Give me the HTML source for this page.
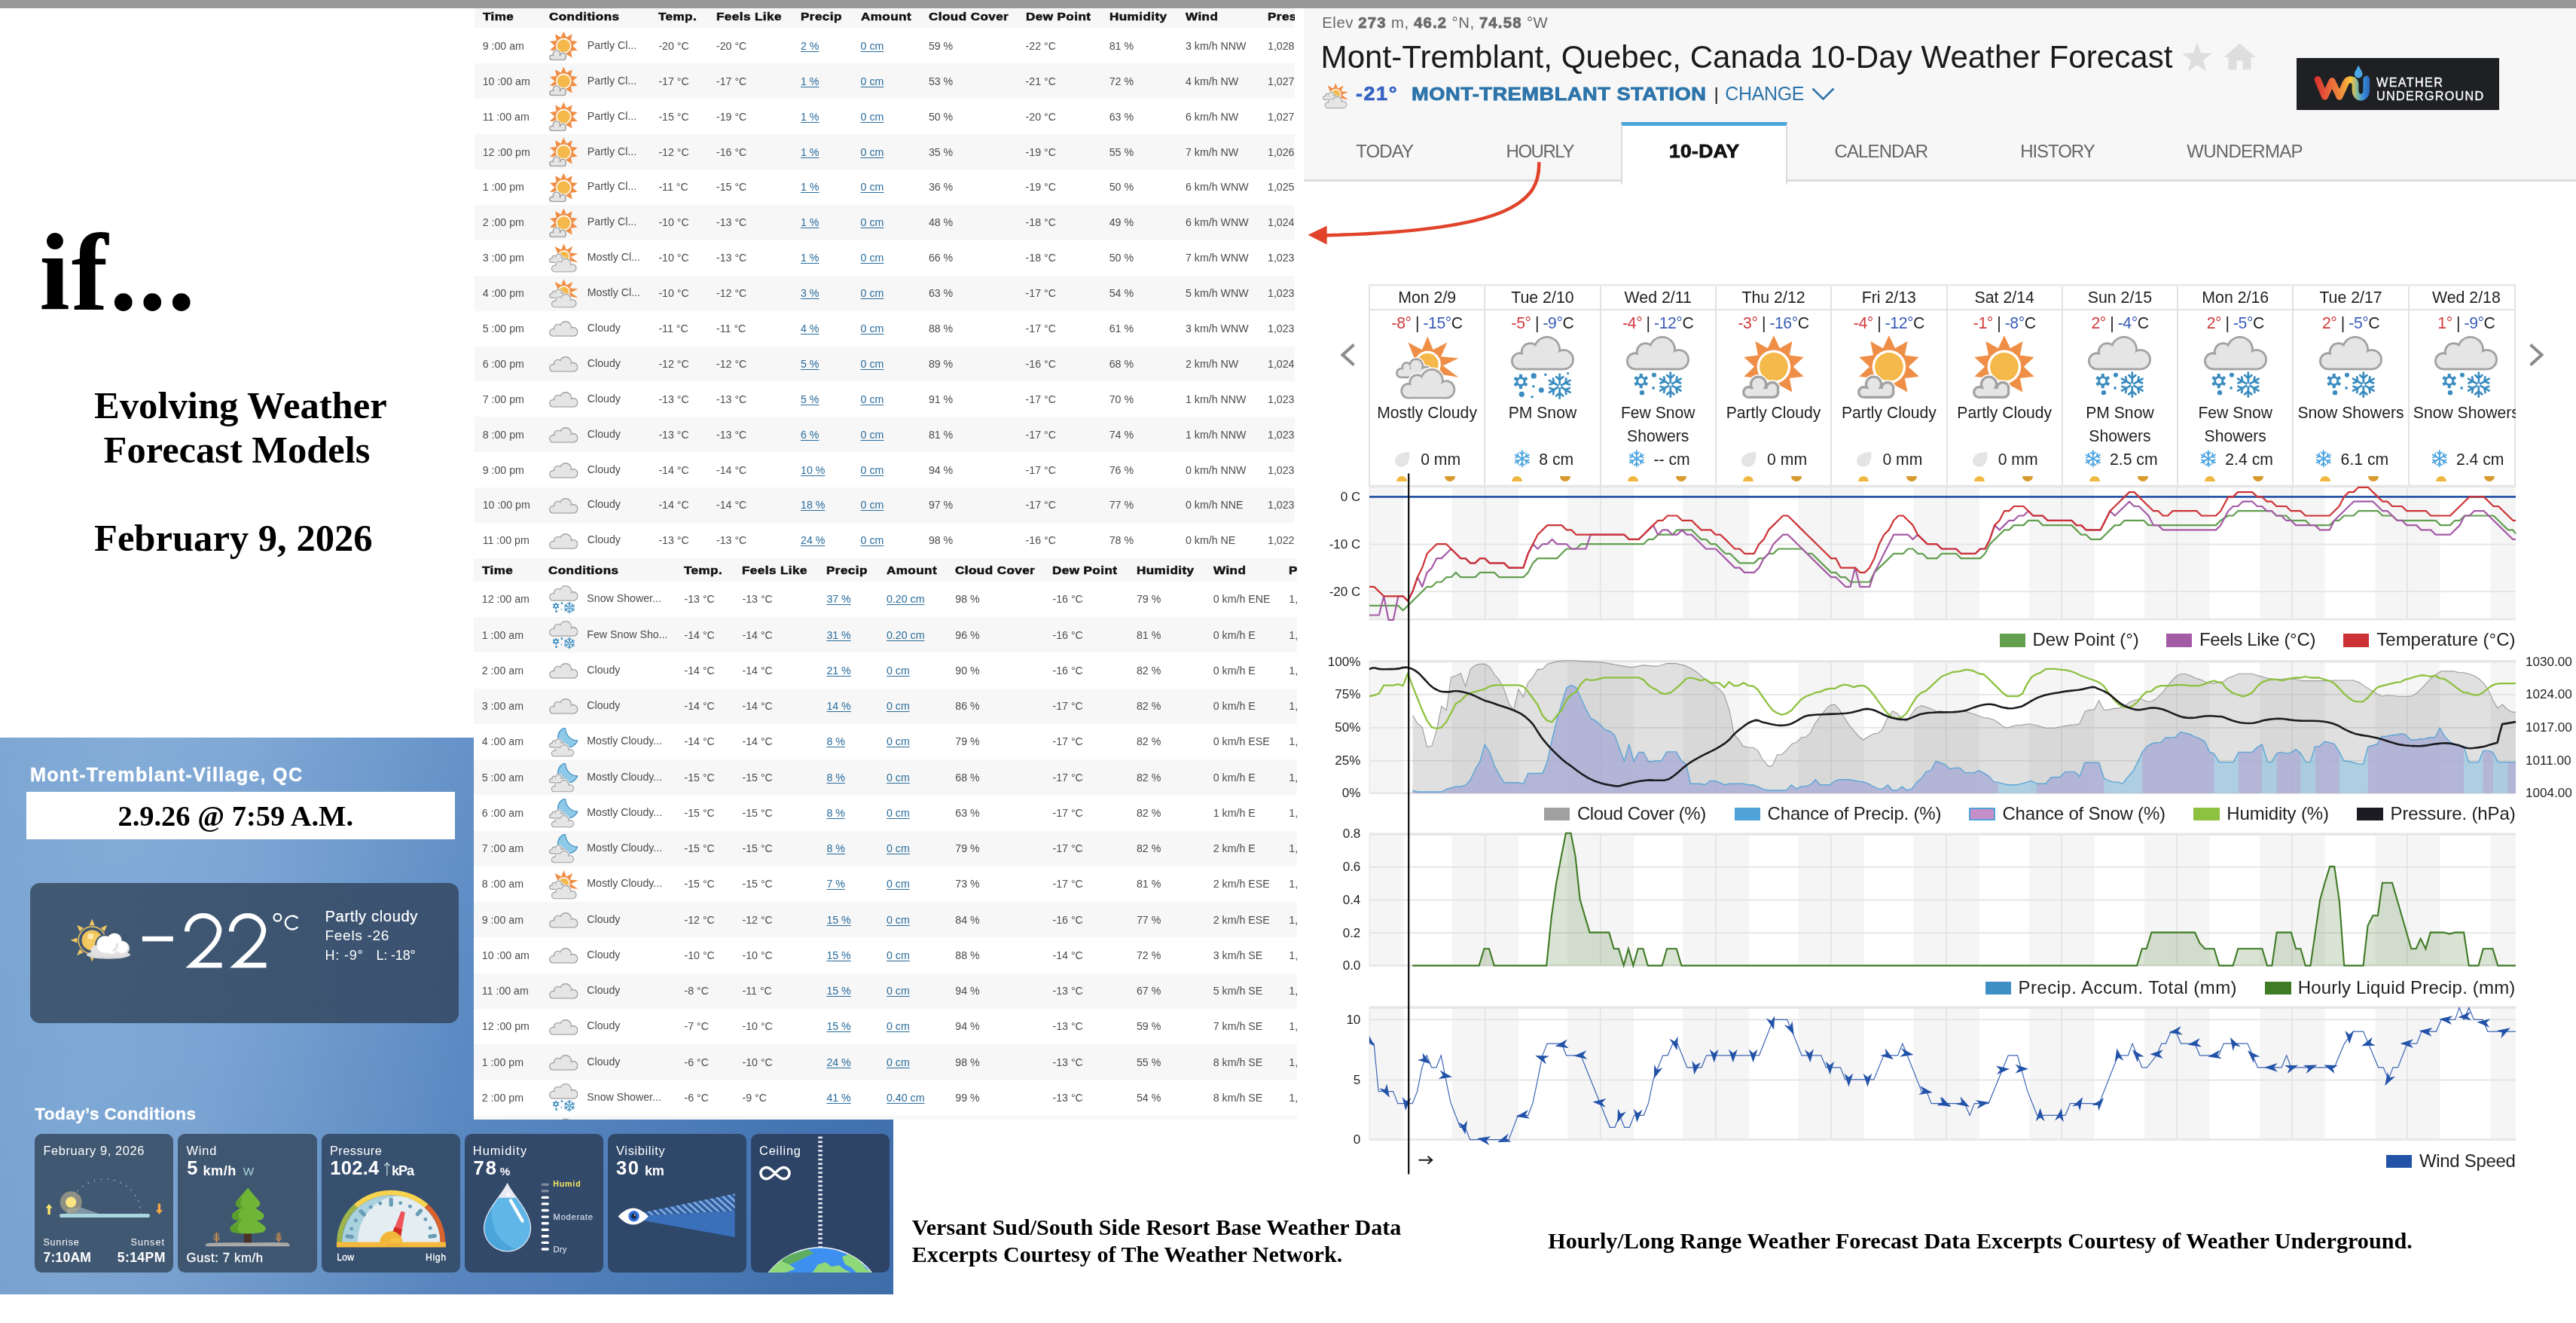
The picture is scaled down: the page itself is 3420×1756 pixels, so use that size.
<!DOCTYPE html>
<html><head><meta charset="utf-8"><title>if... Evolving Weather Forecast Models</title>
<style>
html,body{margin:0;padding:0}
body{width:3420px;height:1756px;position:relative;overflow:hidden;background:#fff;font-family:"Liberation Sans",sans-serif}
#pg{position:absolute;left:0;top:0;width:3420px;height:1756px;overflow:hidden;will-change:transform;transform:translateZ(0);-webkit-font-smoothing:antialiased}
.abs{position:absolute}
.topbar{position:absolute;left:0;top:0;width:3420px;height:11.4px;background:#999}

.tb{position:absolute;overflow:hidden;background:#fff;font-family:"Liberation Sans",sans-serif}
.th{position:absolute;left:0;right:0;top:0;background:#f7f7f7}
.th span{position:absolute;font-weight:bold;font-size:15.5px;letter-spacing:.4px;color:#111;white-space:nowrap;line-height:16px;-webkit-text-stroke:.55px #111;transform:scaleX(1.1);transform-origin:0 50%}
.tr{position:absolute;left:0;right:0;background:#fff}
.tr.g{background:#f7f7f7}
.tr span{position:absolute;top:50%;margin-top:-8.0px;font-size:14.2px;letter-spacing:0;color:#4c4c4c;white-space:nowrap;line-height:16px}
.tr span.cd{margin-top:-9.1px}
.tr span.lk{color:#2a6c9c;text-decoration:underline;text-underline-offset:1.5px}
.ic{position:absolute;overflow:visible}

.sf{position:absolute;font-family:"Liberation Serif",serif;font-weight:bold;color:#000;white-space:nowrap;line-height:1}

.t{position:absolute;white-space:nowrap;line-height:1;font-family:"Liberation Sans",sans-serif}
.wuh{position:absolute;left:1731px;top:11.4px;width:1689px;height:230.1px;background:#f7f7f7;border-bottom:3.2px solid #dcdcdc;box-sizing:border-box}
.tabact{position:absolute;left:2151.5px;top:161.5px;width:221.5px;height:83px;background:#fff;border-top:5px solid #4ba5da;border-left:2.5px solid #dcdcdc;border-right:2.5px solid #dcdcdc;box-sizing:border-box}
.logo{position:absolute;left:3049px;top:77px;width:269px;height:68.8px;background:#1e2024}
.strip{position:absolute;left:1816.5px;top:376.5px;width:1523.5px;height:268px;overflow:hidden;border-top:3px solid #ebebeb;box-sizing:border-box;background:#fff}
.strip .vl{position:absolute;top:0;width:2px;height:268px;background:#e2e2e2}
.strip .hl{position:absolute;left:0;width:1530px;height:2.2px;background:#e2e2e2}

.twn{position:absolute;left:0;top:979.3px;width:1186.3px;height:738.3px;overflow:hidden;
 background:linear-gradient(97deg,#78a2d1 0%,#7ea8d5 14%,#7aa4d3 26%,#6a97cb 40%,#5c8bc4 52%,#5685c0 64%,#4d7ebb 78%,#4576b4 90%,#4273b1 100%)}
.twn .sheen{position:absolute;left:0;top:0;width:100%;height:100%;background:linear-gradient(165deg,rgba(255,255,255,.05) 0%,rgba(255,255,255,0) 45%,rgba(0,0,40,.05) 100%)}
.card{position:absolute;border-radius:9.5px;overflow:hidden}
.w{color:#fff}
</style></head>
<body><div id="pg">
<svg width="0" height="0" style="position:absolute"><defs><symbol id="i-pc" viewBox="0 0 100 100"><polygon points="50.20,-1.10 59.78,19.42 79.59,8.45 75.28,30.68 97.75,33.45 81.20,48.90 97.75,64.35 75.28,67.12 79.59,89.35 59.78,78.38 50.20,98.90 40.62,78.38 20.81,89.35 25.12,67.12 2.65,64.35 19.20,48.90 2.65,33.45 25.12,30.68 20.81,8.45 40.62,19.42" fill="#ef8f47"/><circle cx="50.2" cy="48.9" r="26.7" fill="#fff"/><circle cx="50.2" cy="48.9" r="22.6" fill="#f4b94a"/><g fill="#fff"><circle cx="25.8" cy="77.0" r="15.90"/><circle cx="47.8" cy="83.0" r="13.20"/><circle cx="10.2" cy="89.2" r="12.00"/><circle cx="49.0" cy="89.0" r="12.10"/><rect x="10.2" y="84" width="38.8" height="17.15"/></g><g fill="#a2a2a2"><circle cx="25.8" cy="77.0" r="14.10"/><circle cx="47.8" cy="83.0" r="11.40"/><circle cx="10.2" cy="89.2" r="10.20"/><circle cx="49.0" cy="89.0" r="10.30"/><rect x="10.2" y="84" width="38.8" height="15.35"/></g><g fill="#e5e5e5"><circle cx="25.8" cy="77.0" r="10.10"/><circle cx="47.8" cy="83.0" r="7.40"/><circle cx="10.2" cy="89.2" r="6.20"/><circle cx="49.0" cy="89.0" r="6.30"/><rect x="10.2" y="84" width="38.8" height="11.35"/></g></symbol><symbol id="i-mc" viewBox="0 0 100 100"><polygon points="28.87,33.68 19.59,10.24 41.92,21.93 50.70,0.70 59.48,21.93 81.81,10.24 72.02,32.74 99.98,35.22 75.07,47.36 99.95,65.70 69.47,60.55 50.70,44.80" fill="#ef8f47"/><circle cx="50.7" cy="44.8" r="21" fill="#fff"/><circle cx="50.7" cy="44.8" r="17.2" fill="#f4b94a"/><g fill="#fff"><ellipse cx="8.15" cy="58.76" rx="9.65" ry="10.06"/><ellipse cx="17.38" cy="49.96" rx="10.22" ry="10.66"/><ellipse cx="32.49" cy="47.93" rx="13.81" ry="14.43"/><ellipse cx="47.42" cy="57.26" rx="11.08" ry="11.55"/><rect x="8.15" y="52.95" width="39.27" height="15.86"/></g><g fill="#a2a2a2"><ellipse cx="8.15" cy="58.76" rx="8.15" ry="8.56"/><ellipse cx="17.38" cy="49.96" rx="8.72" ry="9.16"/><ellipse cx="32.49" cy="47.93" rx="12.31" ry="12.93"/><ellipse cx="47.42" cy="57.26" rx="9.58" ry="10.05"/><rect x="8.15" y="52.95" width="39.27" height="14.36"/></g><g fill="#e5e5e5"><ellipse cx="8.15" cy="58.76" rx="4.85" ry="5.26"/><ellipse cx="17.38" cy="49.96" rx="5.42" ry="5.86"/><ellipse cx="32.49" cy="47.93" rx="9.01" ry="9.63"/><ellipse cx="47.42" cy="57.26" rx="6.28" ry="6.75"/><rect x="8.15" y="52.95" width="39.27" height="11.06"/></g><g fill="#fff"><ellipse cx="20.01" cy="87.28" rx="14.31" ry="14.69"/><ellipse cx="34.19" cy="74.03" rx="15.19" ry="15.59"/><ellipse cx="57.38" cy="70.97" rx="20.70" ry="21.27"/><ellipse cx="80.30" cy="85.03" rx="16.50" ry="16.94"/><rect x="20.01" y="78.54" width="60.29" height="23.43"/></g><g fill="#a2a2a2"><ellipse cx="20.01" cy="87.28" rx="12.51" ry="12.89"/><ellipse cx="34.19" cy="74.03" rx="13.39" ry="13.79"/><ellipse cx="57.38" cy="70.97" rx="18.90" ry="19.47"/><ellipse cx="80.30" cy="85.03" rx="14.70" ry="15.14"/><rect x="20.01" y="78.54" width="60.29" height="21.63"/></g><g fill="#e5e5e5"><ellipse cx="20.01" cy="87.28" rx="9.21" ry="9.59"/><ellipse cx="34.19" cy="74.03" rx="10.09" ry="10.49"/><ellipse cx="57.38" cy="70.97" rx="15.60" ry="16.17"/><ellipse cx="80.30" cy="85.03" rx="11.40" ry="11.84"/><rect x="20.01" y="78.54" width="60.29" height="18.33"/></g></symbol><symbol id="i-mcn" viewBox="0 0 100 100"><defs><mask id="mk-moon"><rect width="100" height="100" fill="#fff"/><circle cx="97" cy="2" r="42" fill="#000"/></mask></defs><g mask="url(#mk-moon)"><circle cx="65" cy="33" r="34.5" fill="#8fc9e8" stroke="#3c8cc2" stroke-width="3.4"/></g><path d="M56.3,0.8 A42,42 0 0 0 98.6,44" fill="none" stroke="#3c8cc2" stroke-width="3.2"/><g fill="#fff"><ellipse cx="8.01" cy="60.34" rx="9.51" ry="9.91"/><ellipse cx="17.08" cy="51.70" rx="10.07" ry="10.50"/><ellipse cx="31.92" cy="49.70" rx="13.60" ry="14.20"/><ellipse cx="46.59" cy="58.87" rx="10.91" ry="11.38"/><rect x="8.01" y="54.64" width="38.58" height="15.61"/></g><g fill="#a2a2a2"><ellipse cx="8.01" cy="60.34" rx="8.01" ry="8.41"/><ellipse cx="17.08" cy="51.70" rx="8.57" ry="9.00"/><ellipse cx="31.92" cy="49.70" rx="12.10" ry="12.70"/><ellipse cx="46.59" cy="58.87" rx="9.41" ry="9.88"/><rect x="8.01" y="54.64" width="38.58" height="14.11"/></g><g fill="#e5e5e5"><ellipse cx="8.01" cy="60.34" rx="4.71" ry="5.11"/><ellipse cx="17.08" cy="51.70" rx="5.27" ry="5.70"/><ellipse cx="31.92" cy="49.70" rx="8.80" ry="9.40"/><ellipse cx="46.59" cy="58.87" rx="6.11" ry="6.58"/><rect x="8.01" y="54.64" width="38.58" height="10.81"/></g><g fill="#fff"><ellipse cx="18.30" cy="88.49" rx="13.10" ry="13.32"/><ellipse cx="31.10" cy="76.64" rx="13.89" ry="14.13"/><ellipse cx="52.03" cy="73.91" rx="18.86" ry="19.21"/><ellipse cx="72.73" cy="86.48" rx="15.07" ry="15.34"/><rect x="18.30" y="80.67" width="54.43" height="21.14"/></g><g fill="#a2a2a2"><ellipse cx="18.30" cy="88.49" rx="11.30" ry="11.52"/><ellipse cx="31.10" cy="76.64" rx="12.09" ry="12.33"/><ellipse cx="52.03" cy="73.91" rx="17.06" ry="17.41"/><ellipse cx="72.73" cy="86.48" rx="13.27" ry="13.54"/><rect x="18.30" y="80.67" width="54.43" height="19.34"/></g><g fill="#e5e5e5"><ellipse cx="18.30" cy="88.49" rx="8.00" ry="8.22"/><ellipse cx="31.10" cy="76.64" rx="8.79" ry="9.03"/><ellipse cx="52.03" cy="73.91" rx="13.76" ry="14.11"/><ellipse cx="72.73" cy="86.48" rx="9.97" ry="10.24"/><rect x="18.30" y="80.67" width="54.43" height="16.04"/></g></symbol><symbol id="i-cl" viewBox="0 0 100 54"><g fill="#a2a2a2"><ellipse cx="14.30" cy="39.70" rx="14.30" ry="14.30"/><ellipse cx="30.50" cy="25.00" rx="15.30" ry="15.30"/><ellipse cx="57.00" cy="21.60" rx="21.60" ry="21.60"/><ellipse cx="83.20" cy="37.20" rx="16.80" ry="16.80"/><rect x="14.30" y="30.00" width="68.90" height="24.00"/></g><g fill="#e5e5e5"><ellipse cx="14.30" cy="39.70" rx="10.70" ry="10.70"/><ellipse cx="30.50" cy="25.00" rx="11.70" ry="11.70"/><ellipse cx="57.00" cy="21.60" rx="18.00" ry="18.00"/><ellipse cx="83.20" cy="37.20" rx="13.20" ry="13.20"/><rect x="14.30" y="30.00" width="68.90" height="20.40"/></g></symbol><symbol id="i-sn" viewBox="0 0 100 100"><g fill="#a2a2a2"><ellipse cx="14.30" cy="39.70" rx="14.30" ry="14.30"/><ellipse cx="30.50" cy="25.00" rx="15.30" ry="15.30"/><ellipse cx="57.00" cy="21.60" rx="21.60" ry="21.60"/><ellipse cx="83.20" cy="37.20" rx="16.80" ry="16.80"/><rect x="14.30" y="30.00" width="68.90" height="24.00"/></g><g fill="#e5e5e5"><ellipse cx="14.30" cy="39.70" rx="10.90" ry="10.90"/><ellipse cx="30.50" cy="25.00" rx="11.90" ry="11.90"/><ellipse cx="57.00" cy="21.60" rx="18.20" ry="18.20"/><ellipse cx="83.20" cy="37.20" rx="13.40" ry="13.40"/><rect x="14.30" y="30.00" width="68.90" height="20.60"/></g><g stroke="#3a8cc0" stroke-width="4.83" stroke-linecap="butt"><path d="M23.50,65.83L23.50,59.50"/><path d="M27.98,68.41L33.46,65.25"/><path d="M27.98,73.59L33.46,76.75"/><path d="M23.50,76.17L23.50,82.50"/><path d="M19.02,73.59L13.54,76.75"/><path d="M19.02,68.41L13.54,65.25"/></g><circle cx="23.5" cy="71" r="5.98" fill="none" stroke="#3a8cc0" stroke-width="3.45"/><g stroke="#3a8cc0" stroke-width="3.23" stroke-linecap="round" fill="none"><path d="M70.00,77.00L70.00,58.00"/><path d="M70.00,66.55L64.47,61.91"/><path d="M70.00,66.55L75.53,61.91"/><path d="M70.00,77.00L86.45,67.50"/><path d="M79.05,71.78L80.30,64.66"/><path d="M79.05,71.78L85.83,74.24"/><path d="M70.00,77.00L86.45,86.50"/><path d="M79.05,82.22L85.83,79.76"/><path d="M79.05,82.22L80.30,89.34"/><path d="M70.00,77.00L70.00,96.00"/><path d="M70.00,87.45L75.53,92.09"/><path d="M70.00,87.45L64.47,92.09"/><path d="M70.00,77.00L53.55,86.50"/><path d="M60.95,82.22L59.70,89.34"/><path d="M60.95,82.22L54.17,79.76"/><path d="M70.00,77.00L53.55,67.50"/><path d="M60.95,71.78L54.17,74.24"/><path d="M60.95,71.78L59.70,64.66"/></g><circle cx="70" cy="77" r="2.28" fill="#fff"/><circle cx="44" cy="61.5" r="3.6" fill="#3a8cc0"/><circle cx="43" cy="82" r="2.2" fill="#3a8cc0"/><circle cx="25" cy="89.5" r="3.8" fill="#3a8cc0"/></symbol><symbol id="i-sn2" viewBox="0 0 100 100"><g fill="#a2a2a2"><ellipse cx="14.30" cy="39.70" rx="14.30" ry="14.30"/><ellipse cx="30.50" cy="25.00" rx="15.30" ry="15.30"/><ellipse cx="57.00" cy="21.60" rx="21.60" ry="21.60"/><ellipse cx="83.20" cy="37.20" rx="16.80" ry="16.80"/><rect x="14.30" y="30.00" width="68.90" height="24.00"/></g><g fill="#e5e5e5"><ellipse cx="14.30" cy="39.70" rx="11.00" ry="11.00"/><ellipse cx="30.50" cy="25.00" rx="12.00" ry="12.00"/><ellipse cx="57.00" cy="21.60" rx="18.30" ry="18.30"/><ellipse cx="83.20" cy="37.20" rx="13.50" ry="13.50"/><rect x="14.30" y="30.00" width="68.90" height="20.70"/></g><g stroke="#3a8cc0" stroke-width="4.83" stroke-linecap="butt"><path d="M15.50,66.83L15.50,60.50"/><path d="M19.98,69.41L25.46,66.25"/><path d="M19.98,74.59L25.46,77.75"/><path d="M15.50,77.17L15.50,83.50"/><path d="M11.02,74.59L5.54,77.75"/><path d="M11.02,69.41L5.54,66.25"/></g><circle cx="15.5" cy="72" r="5.98" fill="none" stroke="#3a8cc0" stroke-width="3.45"/><g stroke="#3a8cc0" stroke-width="3.23" stroke-linecap="round" fill="none"><path d="M77.00,79.50L77.00,60.50"/><path d="M77.00,69.05L71.47,64.41"/><path d="M77.00,69.05L82.53,64.41"/><path d="M77.00,79.50L93.45,70.00"/><path d="M86.05,74.28L87.30,67.16"/><path d="M86.05,74.28L92.83,76.74"/><path d="M77.00,79.50L93.45,89.00"/><path d="M86.05,84.72L92.83,82.26"/><path d="M86.05,84.72L87.30,91.84"/><path d="M77.00,79.50L77.00,98.50"/><path d="M77.00,89.95L82.53,94.59"/><path d="M77.00,89.95L71.47,94.59"/><path d="M77.00,79.50L60.55,89.00"/><path d="M67.95,84.72L66.70,91.84"/><path d="M67.95,84.72L61.17,82.26"/><path d="M77.00,79.50L60.55,70.00"/><path d="M67.95,74.28L61.17,76.74"/><path d="M67.95,74.28L66.70,67.16"/></g><circle cx="77" cy="79.5" r="2.28" fill="#fff"/><circle cx="36" cy="63" r="4.3" fill="#3a8cc0"/><circle cx="54.5" cy="61" r="2.1" fill="#3a8cc0"/><circle cx="90" cy="59" r="1.9" fill="#3a8cc0"/><circle cx="35.6" cy="79.6" r="2.1" fill="#3a8cc0"/><circle cx="48" cy="85.5" r="4.2" fill="#3a8cc0"/><circle cx="17" cy="92" r="4.3" fill="#3a8cc0"/><circle cx="33.5" cy="96" r="2.1" fill="#3a8cc0"/></symbol><symbol id="i-fl" viewBox="0 0 40 40"><g stroke="#4aa3df" stroke-width="3.06" stroke-linecap="round" fill="none"><path d="M20.00,20.00L20.00,2.00"/><path d="M20.00,10.10L14.76,5.70"/><path d="M20.00,10.10L25.24,5.70"/><path d="M20.00,20.00L35.59,11.00"/><path d="M28.57,15.05L29.76,8.31"/><path d="M28.57,15.05L35.00,17.39"/><path d="M20.00,20.00L35.59,29.00"/><path d="M28.57,24.95L35.00,22.61"/><path d="M28.57,24.95L29.76,31.69"/><path d="M20.00,20.00L20.00,38.00"/><path d="M20.00,29.90L25.24,34.30"/><path d="M20.00,29.90L14.76,34.30"/><path d="M20.00,20.00L4.41,29.00"/><path d="M11.43,24.95L10.24,31.69"/><path d="M11.43,24.95L5.00,22.61"/><path d="M20.00,20.00L4.41,11.00"/><path d="M11.43,15.05L5.00,17.39"/><path d="M11.43,15.05L10.24,8.31"/></g><circle cx="20" cy="20" r="2.16" fill="none"/></symbol><symbol id="i-dr" viewBox="0 0 40 40"><path d="M38,1.5 C41,22 33,39 18.5,39 C7.5,39 1,31 2,21.5 C3.5,9 18,2.5 38,1.5Z" fill="#e4e4e4"/></symbol></defs></svg>
<!-- wu -->
<div class="wuh"></div>
<div class="t" style="left:1755.2px;top:20.3px;font-size:20.3px;color:#666;letter-spacing:.6px">Elev <b style="color:#6a6a6a;-webkit-text-stroke:.75px #6a6a6a;letter-spacing:1.2px">273</b> m, <b style="color:#6a6a6a;-webkit-text-stroke:.75px #6a6a6a;letter-spacing:1.2px">46.2</b> °N, <b style="color:#6a6a6a;-webkit-text-stroke:.75px #6a6a6a;letter-spacing:1.2px">74.58</b> °W</div>
<div class="t" style="left:1753.6px;top:54.6px;font-size:42.1px;color:#1a1a1a;letter-spacing:0.015px;">Mont-Tremblant, Quebec, Canada 10-Day Weather Forecast</div>
<svg class="abs" style="left:2896px;top:55px" width="42" height="42" viewBox="0 0 42 42"><polygon points="21,1 26,15.5 41,15.8 29,25 33.4,40 21,31 8.6,40 13,25 1,15.8 16,15.5" fill="#dedede"/></svg>
<svg class="abs" style="left:2952px;top:57px" width="43" height="36" viewBox="0 0 43 36"><path d="M21.5,0.5 L42.5,19 H36.5 V35.5 H25.5 V23.5 H17.5 V35.5 H6.5 V19 H0.5Z" fill="#dedede"/></svg>
<svg class="abs" style="left:1756px;top:110px;overflow:visible" width="34" height="34"><use href="#i-mc"/></svg>
<div class="t" style="left:1800.2px;top:112.3px;font-size:25.2px;font-weight:bold;color:#3664c2;letter-spacing:1.459px;-webkit-text-stroke:.7px #3664c2;transform:scaleX(1.07);transform-origin:0 50%;">-21°</div>
<div class="t" style="left:1874.4px;top:112.6px;font-size:24.8px;font-weight:bold;color:#2d74aa;letter-spacing:0.440px;-webkit-text-stroke:.85px #2d74aa;transform:scaleX(1.1);transform-origin:0 50%;">MONT-TREMBLANT STATION</div>
<div class="t" style="left:2275.5px;top:112.5px;font-size:24.5px;color:#222;">|</div>
<div class="t" style="left:2290.2px;top:112.4px;font-size:25px;color:#2d74aa;letter-spacing:-0.326px;">CHANGE</div>
<svg class="abs" style="left:2404px;top:115px" width="33" height="20" viewBox="0 0 33 20"><path d="M2.5,2.5 L16.5,16.5 L30.5,2.5" fill="none" stroke="#2d74aa" stroke-width="2.6"/></svg>
<div class="logo"></div>
<svg class="abs" style="left:3049px;top:77px" width="269" height="69" viewBox="3049 77 269 69"><defs><linearGradient id="wug" gradientUnits="userSpaceOnUse" x1="3073" y1="0" x2="3146" y2="0"><stop offset="0" stop-color="#d62f30"/><stop offset=".28" stop-color="#e9683a"/><stop offset=".5" stop-color="#f0913a"/><stop offset=".66" stop-color="#f8c43e"/><stop offset=".78" stop-color="#7fb9a0"/><stop offset=".88" stop-color="#3a8fd6"/><stop offset="1" stop-color="#2a64b8"/></linearGradient></defs><path d="M3077,105.5 L3086.5,128.3 L3096,107.5 L3106,128.3 L3114,110.5 C3117,104 3125.5,104 3127,111.5 L3127,119 C3127,132.5 3141.8,132.5 3141.8,119 L3141.8,105" fill="none" stroke="url(#wug)" stroke-width="8.8" stroke-linecap="round" stroke-linejoin="round"/><path d="M3131.2,86.5 C3133.5,92 3136.6,95 3136.6,98.3 A5.4,5.4 0 0 1 3125.8,98.3 C3125.8,95 3128.9,92 3131.2,86.5Z" fill="#4aa9e4"/></svg><div class="t" style="left:3155.0px;top:100.9px;font-size:16.2px;color:#fff;letter-spacing:1.357px;-webkit-text-stroke:.3px #fff">WEATHER</div><div class="t" style="left:3155.0px;top:119.1px;font-size:16.2px;color:#fff;letter-spacing:1.273px;-webkit-text-stroke:.3px #fff">UNDERGROUND</div>
<div class="tabact"></div>
<div class="t" style="left:1800.2px;top:188.6px;font-size:24px;color:#676767;letter-spacing:-0.912px;">TODAY</div>
<div class="t" style="left:1999.5px;top:188.6px;font-size:24px;color:#676767;letter-spacing:-1.456px;">HOURLY</div>
<div class="t" style="left:2435.5px;top:188.6px;font-size:24px;color:#676767;letter-spacing:-0.888px;">CALENDAR</div>
<div class="t" style="left:2682.2px;top:188.6px;font-size:24px;color:#676767;letter-spacing:-1.058px;">HISTORY</div>
<div class="t" style="left:2903.3px;top:188.6px;font-size:24px;color:#676767;letter-spacing:-0.722px;">WUNDERMAP</div>
<div class="t" style="left:2216.0px;top:188.6px;font-size:24px;font-weight:bold;color:#111;letter-spacing:0.307px;-webkit-text-stroke:.8px #111;transform:scaleX(1.1);transform-origin:0 50%;">10-DAY</div>
<svg class="abs" style="left:1730px;top:210px;overflow:visible" width="330" height="125" viewBox="1730 210 330 125"><path d="M2043.2,215.2 C2045,268 2006,306 1760,312.4" fill="none" stroke="#e0432a" stroke-width="4.5"/><polygon points="1736.4,311.8 1761.6,299.8 1761.6,324.6" fill="#e0432a"/></svg>
<div class="strip">
<div class="vl" style="left:0.5px"></div>
<div class="vl" style="left:153.8px"></div>
<div class="vl" style="left:307.1px"></div>
<div class="vl" style="left:460.4px"></div>
<div class="vl" style="left:613.7px"></div>
<div class="vl" style="left:767.0px"></div>
<div class="vl" style="left:920.3px"></div>
<div class="vl" style="left:1073.6px"></div>
<div class="vl" style="left:1226.9px"></div>
<div class="vl" style="left:1380.2px"></div>
<div class="vl" style="left:1533.5px"></div>
<div class="hl" style="top:30.7px"></div>
</div>
<div class="abs" style="left:3338.4px;top:376.5px;width:1.8px;height:268px;background:#e2e2e2"></div>
<div class="abs" style="left:1816.5px;top:376.5px;width:1523.5px;height:268px;overflow:hidden">
<div class="t" style="left:39.7px;top:8.2px;font-size:21.3px;color:#222;">Mon 2/9</div>
<div class="t" style="left:31.1px;top:41.5px;font-size:21.2px;letter-spacing:-0.45px;color:#222"><span style="color:#d13a3c">-8°</span> | <span style="color:#3a5db8">-15°</span>C</div>
<svg class="abs" style="left:36.2px;top:69.8px;overflow:visible" width="83.5" height="83.5"><use href="#i-mc"/></svg>
<div class="t" style="left:11.7px;top:160.6px;font-size:21.15px;color:#222;">Mostly Cloudy</div>
<svg class="abs" style="left:34.6px;top:222.3px" width="21.2" height="21.2"><use href="#i-dr"/></svg>
<div class="t" style="left:69.7px;top:222.6px;font-size:21.2px;color:#222;">0 mm</div>
<svg class="abs" style="left:37.5px;top:255.7px" width="14" height="7" viewBox="0 0 14 7"><path d="M0,7 A7,7 0 0 1 14,7Z" fill="#f0b840"/></svg>
<svg class="abs" style="left:101.5px;top:255.7px" width="14" height="7" viewBox="0 0 14 7"><path d="M0,0 A7,7 0 0 0 14,0Z" fill="#d89a2e"/></svg>
<div class="t" style="left:189.8px;top:8.2px;font-size:21.3px;color:#222;">Tue 2/10</div>
<div class="t" style="left:190.1px;top:41.5px;font-size:21.2px;letter-spacing:-0.45px;color:#222"><span style="color:#d13a3c">-5°</span> | <span style="color:#3a5db8">-9°</span>C</div>
<svg class="abs" style="left:189.5px;top:69.1px;overflow:visible" width="84" height="84"><use href="#i-sn2"/></svg>
<div class="t" style="left:186.2px;top:160.6px;font-size:21.15px;color:#222;">PM Snow</div>
<svg class="abs" style="left:192.5px;top:220.8px" width="23.6" height="23.6"><use href="#i-fl"/></svg>
<div class="t" style="left:226.8px;top:222.6px;font-size:21.2px;color:#222;">8 cm</div>
<svg class="abs" style="left:190.8px;top:255.7px" width="14" height="7" viewBox="0 0 14 7"><path d="M0,7 A7,7 0 0 1 14,7Z" fill="#f0b840"/></svg>
<svg class="abs" style="left:254.8px;top:255.7px" width="14" height="7" viewBox="0 0 14 7"><path d="M0,0 A7,7 0 0 0 14,0Z" fill="#d89a2e"/></svg>
<div class="t" style="left:340.1px;top:8.2px;font-size:21.3px;color:#222;">Wed 2/11</div>
<div class="t" style="left:337.7px;top:41.5px;font-size:21.2px;letter-spacing:-0.45px;color:#222"><span style="color:#d13a3c">-4°</span> | <span style="color:#3a5db8">-12°</span>C</div>
<svg class="abs" style="left:342.8px;top:69.1px;overflow:visible" width="84" height="84"><use href="#i-sn"/></svg>
<div class="t" style="left:335.4px;top:160.6px;font-size:21.15px;color:#222;">Few Snow</div>
<div class="t" style="left:343.6px;top:191.2px;font-size:21.15px;color:#222;">Showers</div>
<svg class="abs" style="left:344.7px;top:220.8px" width="23.6" height="23.6"><use href="#i-fl"/></svg>
<div class="t" style="left:379.0px;top:222.6px;font-size:21.2px;color:#222;">-- cm</div>
<svg class="abs" style="left:344.1px;top:255.7px" width="14" height="7" viewBox="0 0 14 7"><path d="M0,7 A7,7 0 0 1 14,7Z" fill="#f0b840"/></svg>
<svg class="abs" style="left:408.1px;top:255.7px" width="14" height="7" viewBox="0 0 14 7"><path d="M0,0 A7,7 0 0 0 14,0Z" fill="#d89a2e"/></svg>
<div class="t" style="left:496.0px;top:8.2px;font-size:21.3px;color:#222;">Thu 2/12</div>
<div class="t" style="left:491.0px;top:41.5px;font-size:21.2px;letter-spacing:-0.45px;color:#222"><span style="color:#d13a3c">-3°</span> | <span style="color:#3a5db8">-16°</span>C</div>
<svg class="abs" style="left:496.1px;top:69.8px;overflow:visible" width="83.5" height="83.5"><use href="#i-pc"/></svg>
<div class="t" style="left:475.2px;top:160.6px;font-size:21.15px;color:#222;">Partly Cloudy</div>
<svg class="abs" style="left:494.5px;top:222.3px" width="21.2" height="21.2"><use href="#i-dr"/></svg>
<div class="t" style="left:529.6px;top:222.6px;font-size:21.2px;color:#222;">0 mm</div>
<svg class="abs" style="left:497.4px;top:255.7px" width="14" height="7" viewBox="0 0 14 7"><path d="M0,7 A7,7 0 0 1 14,7Z" fill="#f0b840"/></svg>
<svg class="abs" style="left:561.4px;top:255.7px" width="14" height="7" viewBox="0 0 14 7"><path d="M0,0 A7,7 0 0 0 14,0Z" fill="#d89a2e"/></svg>
<div class="t" style="left:655.2px;top:8.2px;font-size:21.3px;color:#222;">Fri 2/13</div>
<div class="t" style="left:644.3px;top:41.5px;font-size:21.2px;letter-spacing:-0.45px;color:#222"><span style="color:#d13a3c">-4°</span> | <span style="color:#3a5db8">-12°</span>C</div>
<svg class="abs" style="left:649.3px;top:69.8px;overflow:visible" width="83.5" height="83.5"><use href="#i-pc"/></svg>
<div class="t" style="left:628.5px;top:160.6px;font-size:21.15px;color:#222;">Partly Cloudy</div>
<svg class="abs" style="left:647.8px;top:222.3px" width="21.2" height="21.2"><use href="#i-dr"/></svg>
<div class="t" style="left:682.9px;top:222.6px;font-size:21.2px;color:#222;">0 mm</div>
<svg class="abs" style="left:650.7px;top:255.7px" width="14" height="7" viewBox="0 0 14 7"><path d="M0,7 A7,7 0 0 1 14,7Z" fill="#f0b840"/></svg>
<svg class="abs" style="left:714.7px;top:255.7px" width="14" height="7" viewBox="0 0 14 7"><path d="M0,0 A7,7 0 0 0 14,0Z" fill="#d89a2e"/></svg>
<div class="t" style="left:805.0px;top:8.2px;font-size:21.3px;color:#222;">Sat 2/14</div>
<div class="t" style="left:803.3px;top:41.5px;font-size:21.2px;letter-spacing:-0.45px;color:#222"><span style="color:#d13a3c">-1°</span> | <span style="color:#3a5db8">-8°</span>C</div>
<svg class="abs" style="left:802.7px;top:69.8px;overflow:visible" width="83.5" height="83.5"><use href="#i-pc"/></svg>
<div class="t" style="left:781.8px;top:160.6px;font-size:21.15px;color:#222;">Partly Cloudy</div>
<svg class="abs" style="left:801.1px;top:222.3px" width="21.2" height="21.2"><use href="#i-dr"/></svg>
<div class="t" style="left:836.2px;top:222.6px;font-size:21.2px;color:#222;">0 mm</div>
<svg class="abs" style="left:804.0px;top:255.7px" width="14" height="7" viewBox="0 0 14 7"><path d="M0,7 A7,7 0 0 1 14,7Z" fill="#f0b840"/></svg>
<svg class="abs" style="left:868.0px;top:255.7px" width="14" height="7" viewBox="0 0 14 7"><path d="M0,0 A7,7 0 0 0 14,0Z" fill="#d89a2e"/></svg>
<div class="t" style="left:955.3px;top:8.2px;font-size:21.3px;color:#222;">Sun 2/15</div>
<div class="t" style="left:959.9px;top:41.5px;font-size:21.2px;letter-spacing:-0.45px;color:#222"><span style="color:#d13a3c">2°</span> | <span style="color:#3a5db8">-4°</span>C</div>
<svg class="abs" style="left:955.9px;top:69.1px;overflow:visible" width="84" height="84"><use href="#i-sn"/></svg>
<div class="t" style="left:952.7px;top:160.6px;font-size:21.15px;color:#222;">PM Snow</div>
<div class="t" style="left:956.8px;top:191.2px;font-size:21.15px;color:#222;">Showers</div>
<svg class="abs" style="left:950.2px;top:220.8px" width="23.6" height="23.6"><use href="#i-fl"/></svg>
<div class="t" style="left:984.5px;top:222.6px;font-size:21.2px;color:#222;">2.5 cm</div>
<svg class="abs" style="left:957.3px;top:255.7px" width="14" height="7" viewBox="0 0 14 7"><path d="M0,7 A7,7 0 0 1 14,7Z" fill="#f0b840"/></svg>
<svg class="abs" style="left:1021.3px;top:255.7px" width="14" height="7" viewBox="0 0 14 7"><path d="M0,0 A7,7 0 0 0 14,0Z" fill="#d89a2e"/></svg>
<div class="t" style="left:1106.8px;top:8.2px;font-size:21.3px;color:#222;">Mon 2/16</div>
<div class="t" style="left:1113.2px;top:41.5px;font-size:21.2px;letter-spacing:-0.45px;color:#222"><span style="color:#d13a3c">2°</span> | <span style="color:#3a5db8">-5°</span>C</div>
<svg class="abs" style="left:1109.2px;top:69.1px;overflow:visible" width="84" height="84"><use href="#i-sn"/></svg>
<div class="t" style="left:1101.9px;top:160.6px;font-size:21.15px;color:#222;">Few Snow</div>
<div class="t" style="left:1110.1px;top:191.2px;font-size:21.15px;color:#222;">Showers</div>
<svg class="abs" style="left:1103.5px;top:220.8px" width="23.6" height="23.6"><use href="#i-fl"/></svg>
<div class="t" style="left:1137.8px;top:222.6px;font-size:21.2px;color:#222;">2.4 cm</div>
<svg class="abs" style="left:1110.6px;top:255.7px" width="14" height="7" viewBox="0 0 14 7"><path d="M0,7 A7,7 0 0 1 14,7Z" fill="#f0b840"/></svg>
<svg class="abs" style="left:1174.6px;top:255.7px" width="14" height="7" viewBox="0 0 14 7"><path d="M0,0 A7,7 0 0 0 14,0Z" fill="#d89a2e"/></svg>
<div class="t" style="left:1262.9px;top:8.2px;font-size:21.3px;color:#222;">Tue 2/17</div>
<div class="t" style="left:1266.5px;top:41.5px;font-size:21.2px;letter-spacing:-0.45px;color:#222"><span style="color:#d13a3c">2°</span> | <span style="color:#3a5db8">-5°</span>C</div>
<svg class="abs" style="left:1262.6px;top:69.1px;overflow:visible" width="84" height="84"><use href="#i-sn"/></svg>
<div class="t" style="left:1234.0px;top:160.6px;font-size:21.15px;color:#222;">Snow Showers</div>
<svg class="abs" style="left:1256.8px;top:220.8px" width="23.6" height="23.6"><use href="#i-fl"/></svg>
<div class="t" style="left:1291.1px;top:222.6px;font-size:21.2px;color:#222;">6.1 cm</div>
<svg class="abs" style="left:1263.9px;top:255.7px" width="14" height="7" viewBox="0 0 14 7"><path d="M0,7 A7,7 0 0 1 14,7Z" fill="#f0b840"/></svg>
<svg class="abs" style="left:1327.9px;top:255.7px" width="14" height="7" viewBox="0 0 14 7"><path d="M0,0 A7,7 0 0 0 14,0Z" fill="#d89a2e"/></svg>
<div class="t" style="left:1412.5px;top:8.2px;font-size:21.3px;color:#222;">Wed 2/18</div>
<div class="t" style="left:1419.8px;top:41.5px;font-size:21.2px;letter-spacing:-0.45px;color:#222"><span style="color:#d13a3c">1°</span> | <span style="color:#3a5db8">-9°</span>C</div>
<svg class="abs" style="left:1415.9px;top:69.1px;overflow:visible" width="84" height="84"><use href="#i-sn"/></svg>
<div class="t" style="left:1387.3px;top:160.6px;font-size:21.15px;color:#222;">Snow Showers</div>
<svg class="abs" style="left:1410.1px;top:220.8px" width="23.6" height="23.6"><use href="#i-fl"/></svg>
<div class="t" style="left:1444.4px;top:222.6px;font-size:21.2px;color:#222;">2.4 cm</div>
<svg class="abs" style="left:1417.2px;top:255.7px" width="14" height="7" viewBox="0 0 14 7"><path d="M0,7 A7,7 0 0 1 14,7Z" fill="#f0b840"/></svg>
<svg class="abs" style="left:1481.2px;top:255.7px" width="14" height="7" viewBox="0 0 14 7"><path d="M0,0 A7,7 0 0 0 14,0Z" fill="#d89a2e"/></svg>
</div>
<svg class="abs" style="left:1778px;top:455px" width="23" height="32" viewBox="0 0 23 32"><path d="M19.5,2.5 L4.5,16 L19.5,29.5" fill="none" stroke="#8a8a8a" stroke-width="4"/></svg>
<svg class="abs" style="left:3356px;top:455px" width="23" height="32" viewBox="0 0 23 32"><path d="M3.5,2.5 L18.5,16 L3.5,29.5" fill="none" stroke="#8a8a8a" stroke-width="4"/></svg>
<!-- charts -->
<svg class="abs" style="left:1740px;top:620px" width="1680" height="950" viewBox="1740 620 1680 950"><rect x="1818.0" y="645.0" width="1522.0" height="177.0" fill="#fff"/><rect x="1818.0" y="645.0" width="45.6" height="177.0" fill="#f5f5f5"/><rect x="1927.8" y="645.0" width="88.6" height="177.0" fill="#f5f5f5"/><rect x="2081.0" y="645.0" width="88.2" height="177.0" fill="#f5f5f5"/><rect x="2234.2" y="645.0" width="87.9" height="177.0" fill="#f5f5f5"/><rect x="2387.5" y="645.0" width="87.5" height="177.0" fill="#f5f5f5"/><rect x="2540.7" y="645.0" width="87.2" height="177.0" fill="#f5f5f5"/><rect x="2693.9" y="645.0" width="86.8" height="177.0" fill="#f5f5f5"/><rect x="2847.1" y="645.0" width="86.5" height="177.0" fill="#f5f5f5"/><rect x="3000.3" y="645.0" width="86.2" height="177.0" fill="#f5f5f5"/><rect x="3153.6" y="645.0" width="85.8" height="177.0" fill="#f5f5f5"/><rect x="3306.8" y="645.0" width="33.2" height="177.0" fill="#f5f5f5"/><rect x="1970.8" y="645.0" width="1.8" height="177.0" fill="#e4e4e4"/><rect x="2123.9" y="645.0" width="1.8" height="177.0" fill="#e4e4e4"/><rect x="2276.9" y="645.0" width="1.8" height="177.0" fill="#e4e4e4"/><rect x="2430.0" y="645.0" width="1.8" height="177.0" fill="#e4e4e4"/><rect x="2583.0" y="645.0" width="1.8" height="177.0" fill="#e4e4e4"/><rect x="2736.0" y="645.0" width="1.8" height="177.0" fill="#e4e4e4"/><rect x="2889.1" y="645.0" width="1.8" height="177.0" fill="#e4e4e4"/><rect x="3042.1" y="645.0" width="1.8" height="177.0" fill="#e4e4e4"/><rect x="3195.2" y="645.0" width="1.8" height="177.0" fill="#e4e4e4"/><rect x="1818.0" y="721.6" width="1522.0" height="1.8" fill="#e4e4e4"/><rect x="1818.0" y="784.3" width="1522.0" height="1.8" fill="#e4e4e4"/><rect x="1818.0" y="643.7" width="1522.0" height="3.5" fill="#e6e6e6"/><rect x="1818.0" y="820.6" width="1522.0" height="2.8" fill="#e8e8e8"/><rect x="1817.5" y="645.0" width="1.4" height="177.0" fill="#e8e8e8"/><rect x="1818.0" y="877.4" width="1522.0" height="175.30000000000007" fill="#fff"/><rect x="1818.0" y="877.4" width="45.6" height="175.30000000000007" fill="#f5f5f5"/><rect x="1927.8" y="877.4" width="88.6" height="175.30000000000007" fill="#f5f5f5"/><rect x="2081.0" y="877.4" width="88.2" height="175.30000000000007" fill="#f5f5f5"/><rect x="2234.2" y="877.4" width="87.9" height="175.30000000000007" fill="#f5f5f5"/><rect x="2387.5" y="877.4" width="87.5" height="175.30000000000007" fill="#f5f5f5"/><rect x="2540.7" y="877.4" width="87.2" height="175.30000000000007" fill="#f5f5f5"/><rect x="2693.9" y="877.4" width="86.8" height="175.30000000000007" fill="#f5f5f5"/><rect x="2847.1" y="877.4" width="86.5" height="175.30000000000007" fill="#f5f5f5"/><rect x="3000.3" y="877.4" width="86.2" height="175.30000000000007" fill="#f5f5f5"/><rect x="3153.6" y="877.4" width="85.8" height="175.30000000000007" fill="#f5f5f5"/><rect x="3306.8" y="877.4" width="33.2" height="175.30000000000007" fill="#f5f5f5"/><rect x="1970.8" y="877.4" width="1.8" height="175.30000000000007" fill="#e4e4e4"/><rect x="2123.9" y="877.4" width="1.8" height="175.30000000000007" fill="#e4e4e4"/><rect x="2276.9" y="877.4" width="1.8" height="175.30000000000007" fill="#e4e4e4"/><rect x="2430.0" y="877.4" width="1.8" height="175.30000000000007" fill="#e4e4e4"/><rect x="2583.0" y="877.4" width="1.8" height="175.30000000000007" fill="#e4e4e4"/><rect x="2736.0" y="877.4" width="1.8" height="175.30000000000007" fill="#e4e4e4"/><rect x="2889.1" y="877.4" width="1.8" height="175.30000000000007" fill="#e4e4e4"/><rect x="3042.1" y="877.4" width="1.8" height="175.30000000000007" fill="#e4e4e4"/><rect x="3195.2" y="877.4" width="1.8" height="175.30000000000007" fill="#e4e4e4"/><rect x="1818.0" y="920.9" width="1522.0" height="1.8" fill="#e4e4e4"/><rect x="1818.0" y="964.9" width="1522.0" height="1.8" fill="#e4e4e4"/><rect x="1818.0" y="1008.7" width="1522.0" height="1.8" fill="#e4e4e4"/><rect x="1818.0" y="876.1" width="1522.0" height="3.5" fill="#e6e6e6"/><rect x="1818.0" y="1051.3" width="1522.0" height="2.8" fill="#e8e8e8"/><rect x="1817.5" y="877.4" width="1.4" height="175.30000000000007" fill="#e8e8e8"/><rect x="1818.0" y="1106.7" width="1522.0" height="174.89999999999986" fill="#fff"/><rect x="1818.0" y="1106.7" width="45.6" height="174.89999999999986" fill="#f5f5f5"/><rect x="1927.8" y="1106.7" width="88.6" height="174.89999999999986" fill="#f5f5f5"/><rect x="2081.0" y="1106.7" width="88.2" height="174.89999999999986" fill="#f5f5f5"/><rect x="2234.2" y="1106.7" width="87.9" height="174.89999999999986" fill="#f5f5f5"/><rect x="2387.5" y="1106.7" width="87.5" height="174.89999999999986" fill="#f5f5f5"/><rect x="2540.7" y="1106.7" width="87.2" height="174.89999999999986" fill="#f5f5f5"/><rect x="2693.9" y="1106.7" width="86.8" height="174.89999999999986" fill="#f5f5f5"/><rect x="2847.1" y="1106.7" width="86.5" height="174.89999999999986" fill="#f5f5f5"/><rect x="3000.3" y="1106.7" width="86.2" height="174.89999999999986" fill="#f5f5f5"/><rect x="3153.6" y="1106.7" width="85.8" height="174.89999999999986" fill="#f5f5f5"/><rect x="3306.8" y="1106.7" width="33.2" height="174.89999999999986" fill="#f5f5f5"/><rect x="1970.8" y="1106.7" width="1.8" height="174.89999999999986" fill="#e4e4e4"/><rect x="2123.9" y="1106.7" width="1.8" height="174.89999999999986" fill="#e4e4e4"/><rect x="2276.9" y="1106.7" width="1.8" height="174.89999999999986" fill="#e4e4e4"/><rect x="2430.0" y="1106.7" width="1.8" height="174.89999999999986" fill="#e4e4e4"/><rect x="2583.0" y="1106.7" width="1.8" height="174.89999999999986" fill="#e4e4e4"/><rect x="2736.0" y="1106.7" width="1.8" height="174.89999999999986" fill="#e4e4e4"/><rect x="2889.1" y="1106.7" width="1.8" height="174.89999999999986" fill="#e4e4e4"/><rect x="3042.1" y="1106.7" width="1.8" height="174.89999999999986" fill="#e4e4e4"/><rect x="3195.2" y="1106.7" width="1.8" height="174.89999999999986" fill="#e4e4e4"/><rect x="1818.0" y="1149.9" width="1522.0" height="1.8" fill="#e4e4e4"/><rect x="1818.0" y="1193.6" width="1522.0" height="1.8" fill="#e4e4e4"/><rect x="1818.0" y="1237.3" width="1522.0" height="1.8" fill="#e4e4e4"/><rect x="1818.0" y="1105.4" width="1522.0" height="3.5" fill="#e6e6e6"/><rect x="1818.0" y="1280.2" width="1522.0" height="2.8" fill="#e8e8e8"/><rect x="1817.5" y="1106.7" width="1.4" height="174.89999999999986" fill="#e8e8e8"/><rect x="1818.0" y="1336.7" width="1522.0" height="175.89999999999986" fill="#fff"/><rect x="1818.0" y="1336.7" width="45.6" height="175.89999999999986" fill="#f5f5f5"/><rect x="1927.8" y="1336.7" width="88.6" height="175.89999999999986" fill="#f5f5f5"/><rect x="2081.0" y="1336.7" width="88.2" height="175.89999999999986" fill="#f5f5f5"/><rect x="2234.2" y="1336.7" width="87.9" height="175.89999999999986" fill="#f5f5f5"/><rect x="2387.5" y="1336.7" width="87.5" height="175.89999999999986" fill="#f5f5f5"/><rect x="2540.7" y="1336.7" width="87.2" height="175.89999999999986" fill="#f5f5f5"/><rect x="2693.9" y="1336.7" width="86.8" height="175.89999999999986" fill="#f5f5f5"/><rect x="2847.1" y="1336.7" width="86.5" height="175.89999999999986" fill="#f5f5f5"/><rect x="3000.3" y="1336.7" width="86.2" height="175.89999999999986" fill="#f5f5f5"/><rect x="3153.6" y="1336.7" width="85.8" height="175.89999999999986" fill="#f5f5f5"/><rect x="3306.8" y="1336.7" width="33.2" height="175.89999999999986" fill="#f5f5f5"/><rect x="1970.8" y="1336.7" width="1.8" height="175.89999999999986" fill="#e4e4e4"/><rect x="2123.9" y="1336.7" width="1.8" height="175.89999999999986" fill="#e4e4e4"/><rect x="2276.9" y="1336.7" width="1.8" height="175.89999999999986" fill="#e4e4e4"/><rect x="2430.0" y="1336.7" width="1.8" height="175.89999999999986" fill="#e4e4e4"/><rect x="2583.0" y="1336.7" width="1.8" height="175.89999999999986" fill="#e4e4e4"/><rect x="2736.0" y="1336.7" width="1.8" height="175.89999999999986" fill="#e4e4e4"/><rect x="2889.1" y="1336.7" width="1.8" height="175.89999999999986" fill="#e4e4e4"/><rect x="3042.1" y="1336.7" width="1.8" height="175.89999999999986" fill="#e4e4e4"/><rect x="3195.2" y="1336.7" width="1.8" height="175.89999999999986" fill="#e4e4e4"/><rect x="1818.0" y="1352.5" width="1522.0" height="1.8" fill="#e4e4e4"/><rect x="1818.0" y="1432.6" width="1522.0" height="1.8" fill="#e4e4e4"/><rect x="1818.0" y="1335.4" width="1522.0" height="3.5" fill="#e6e6e6"/><rect x="1818.0" y="1511.2" width="1522.0" height="2.8" fill="#e8e8e8"/><rect x="1817.5" y="1336.7" width="1.4" height="175.89999999999986" fill="#e8e8e8"/><rect x="1818.0" y="658.0" width="1522.0" height="2.8" fill="#2b56a7"/><path d="M1818.0,803.9 L1824.4,803.9 L1830.8,803.9 L1837.2,803.9 L1843.5,803.9 L1849.9,803.9 L1856.3,803.9 L1862.7,810.2 L1869.1,803.9 L1875.5,797.6 L1881.9,791.3 L1888.2,785.1 L1894.6,778.8 L1901.0,778.8 L1907.4,772.5 L1913.8,772.5 L1920.2,766.2 L1926.6,766.2 L1932.9,759.9 L1939.3,766.2 L1945.7,766.2 L1952.1,766.2 L1958.5,766.2 L1964.9,759.9 L1971.3,759.9 L1977.7,759.9 L1984.0,759.9 L1990.4,766.2 L1996.8,766.2 L2003.2,766.2 L2009.6,766.2 L2016.0,766.2 L2022.4,766.2 L2028.7,759.9 L2035.1,747.4 L2041.5,741.1 L2047.9,741.1 L2054.3,741.1 L2060.7,741.1 L2067.1,741.1 L2073.4,734.8 L2079.8,728.5 L2086.2,728.5 L2092.6,728.5 L2099.0,722.2 L2105.4,722.2 L2111.8,722.2 L2118.1,722.2 L2124.5,722.2 L2130.9,722.2 L2137.3,722.2 L2143.7,722.2 L2150.1,722.2 L2156.5,722.2 L2162.8,722.2 L2169.2,722.2 L2175.6,722.2 L2182.0,722.2 L2188.4,715.9 L2194.8,715.9 L2201.2,709.7 L2207.5,709.7 L2213.9,709.7 L2220.3,709.7 L2226.7,703.4 L2233.1,703.4 L2239.5,703.4 L2245.9,703.4 L2252.2,709.7 L2258.6,715.9 L2265.0,715.9 L2271.4,722.2 L2277.8,722.2 L2284.2,728.5 L2290.6,734.8 L2296.9,734.8 L2303.3,741.1 L2309.7,747.4 L2316.1,747.4 L2322.5,747.4 L2328.9,747.4 L2335.3,741.1 L2341.7,741.1 L2348.0,734.8 L2354.4,734.8 L2360.8,728.5 L2367.2,728.5 L2373.6,728.5 L2380.0,728.5 L2386.4,728.5 L2392.7,728.5 L2399.1,734.8 L2405.5,734.8 L2411.9,741.1 L2418.3,747.4 L2424.7,753.6 L2431.1,759.9 L2437.4,759.9 L2443.8,766.2 L2450.2,766.2 L2456.6,772.5 L2463.0,772.5 L2469.4,772.5 L2475.8,772.5 L2482.1,772.5 L2488.5,759.9 L2494.9,753.6 L2501.3,747.4 L2507.7,741.1 L2514.1,734.8 L2520.5,734.8 L2526.8,734.8 L2533.2,728.5 L2539.6,728.5 L2546.0,734.8 L2552.4,734.8 L2558.8,741.1 L2565.2,741.1 L2571.5,741.1 L2577.9,734.8 L2584.3,734.8 L2590.7,734.8 L2597.1,734.8 L2603.5,741.1 L2609.9,741.1 L2616.2,741.1 L2622.6,741.1 L2629.0,741.1 L2635.4,734.8 L2641.8,722.2 L2648.2,715.9 L2654.6,709.7 L2661.0,703.4 L2667.3,703.4 L2673.7,697.1 L2680.1,697.1 L2686.5,697.1 L2692.9,690.8 L2699.3,690.8 L2705.7,690.8 L2712.0,697.1 L2718.4,697.1 L2724.8,697.1 L2731.2,697.1 L2737.6,697.1 L2744.0,697.1 L2750.4,697.1 L2756.7,703.4 L2763.1,709.7 L2769.5,709.7 L2775.9,715.9 L2782.3,715.9 L2788.7,715.9 L2795.1,709.7 L2801.4,703.4 L2807.8,697.1 L2814.2,697.1 L2820.6,690.8 L2827.0,690.8 L2833.4,690.8 L2839.8,690.8 L2846.1,690.8 L2852.5,697.1 L2858.9,697.1 L2865.3,697.1 L2871.7,697.1 L2878.1,697.1 L2884.5,697.1 L2890.8,697.1 L2897.2,697.1 L2903.6,697.1 L2910.0,697.1 L2916.4,697.1 L2922.8,697.1 L2929.2,697.1 L2935.6,697.1 L2941.9,697.1 L2948.3,690.8 L2958.3,684.5 L2964.7,684.5 L2971.1,678.2 L2977.5,678.2 L2983.9,678.2 L2990.3,678.2 L2996.8,678.2 L3003.2,678.2 L3009.6,678.2 L3016.0,678.2 L3022.4,684.5 L3028.8,684.5 L3035.2,684.5 L3041.6,690.8 L3048.0,690.8 L3054.4,690.8 L3060.8,690.8 L3067.2,697.1 L3073.6,697.1 L3080.0,697.1 L3086.4,697.1 L3092.8,697.1 L3099.2,690.8 L3105.6,690.8 L3112.0,684.5 L3118.4,684.5 L3124.8,684.5 L3131.2,678.2 L3137.6,678.2 L3144.0,678.2 L3150.4,678.2 L3156.9,678.2 L3163.3,684.5 L3169.7,684.5 L3176.1,684.5 L3182.5,690.8 L3188.9,690.8 L3195.3,690.8 L3201.7,690.8 L3208.1,690.8 L3214.5,690.8 L3220.9,690.8 L3227.3,690.8 L3233.7,690.8 L3240.1,697.1 L3246.5,697.1 L3252.9,697.1 L3259.3,690.8 L3265.7,690.8 L3272.1,684.5 L3278.5,684.5 L3284.9,684.5 L3291.3,684.5 L3297.7,684.5 L3304.1,684.5 L3310.5,684.5 L3317.0,690.8 L3323.4,697.1 L3329.8,703.4 L3336.2,703.4 L3340.0,708.4" fill="none" stroke="#629f50" stroke-width="2.2" stroke-linejoin="round"/><path d="M1818.0,816.5 L1824.4,816.5 L1830.8,816.5 L1837.2,791.3 L1843.5,822.8 L1849.9,822.8 L1856.3,791.3 L1862.7,791.3 L1869.1,797.6 L1875.5,785.1 L1881.9,766.2 L1888.2,778.8 L1894.6,759.9 L1901.0,753.6 L1907.4,741.1 L1913.8,741.1 L1920.2,734.8 L1926.6,728.5 L1932.9,734.8 L1939.3,741.1 L1945.7,741.1 L1952.1,747.4 L1958.5,747.4 L1964.9,741.1 L1971.3,741.1 L1977.7,747.4 L1984.0,747.4 L1990.4,747.4 L1996.8,747.4 L2003.2,753.6 L2009.6,753.6 L2016.0,753.6 L2022.4,753.6 L2028.7,734.8 L2035.1,722.2 L2041.5,728.5 L2047.9,722.2 L2054.3,722.2 L2060.7,715.9 L2067.1,722.2 L2073.4,722.2 L2079.8,722.2 L2086.2,728.5 L2092.6,728.5 L2099.0,728.5 L2105.4,728.5 L2111.8,709.7 L2118.1,709.7 L2124.5,709.7 L2130.9,709.7 L2137.3,709.7 L2143.7,709.7 L2150.1,709.7 L2156.5,709.7 L2162.8,715.9 L2169.2,715.9 L2175.6,715.9 L2182.0,709.7 L2188.4,703.4 L2194.8,697.1 L2201.2,709.7 L2207.5,703.4 L2213.9,703.4 L2220.3,709.7 L2226.7,709.7 L2233.1,703.4 L2239.5,709.7 L2245.9,709.7 L2252.2,715.9 L2258.6,722.2 L2265.0,728.5 L2271.4,728.5 L2277.8,728.5 L2284.2,734.8 L2290.6,741.1 L2296.9,747.4 L2303.3,753.6 L2309.7,753.6 L2316.1,759.9 L2322.5,759.9 L2328.9,759.9 L2335.3,753.6 L2341.7,741.1 L2348.0,734.8 L2354.4,722.2 L2360.8,715.9 L2367.2,709.7 L2373.6,709.7 L2380.0,715.9 L2386.4,722.2 L2392.7,728.5 L2399.1,734.8 L2405.5,741.1 L2411.9,747.4 L2418.3,753.6 L2424.7,759.9 L2431.1,766.2 L2437.4,766.2 L2443.8,772.5 L2450.2,778.8 L2456.6,778.8 L2463.0,753.6 L2469.4,778.8 L2475.8,778.8 L2482.1,778.8 L2488.5,759.9 L2494.9,747.4 L2501.3,734.8 L2507.7,722.2 L2514.1,709.7 L2520.5,709.7 L2526.8,709.7 L2533.2,709.7 L2539.6,715.9 L2546.0,709.7 L2552.4,715.9 L2558.8,722.2 L2565.2,722.2 L2571.5,722.2 L2577.9,728.5 L2584.3,728.5 L2590.7,728.5 L2597.1,728.5 L2603.5,734.8 L2609.9,734.8 L2616.2,734.8 L2622.6,734.8 L2629.0,728.5 L2635.4,728.5 L2641.8,715.9 L2648.2,697.1 L2654.6,703.4 L2661.0,697.1 L2667.3,690.8 L2673.7,690.8 L2680.1,684.5 L2686.5,684.5 L2692.9,678.2 L2699.3,684.5 L2705.7,684.5 L2712.0,684.5 L2718.4,690.8 L2724.8,690.8 L2731.2,690.8 L2737.6,690.8 L2744.0,690.8 L2750.4,690.8 L2756.7,697.1 L2763.1,697.1 L2769.5,703.4 L2775.9,703.4 L2782.3,703.4 L2788.7,703.4 L2795.1,690.8 L2801.4,678.2 L2807.8,684.5 L2814.2,678.2 L2820.6,672.0 L2827.0,665.7 L2833.4,672.0 L2839.8,672.0 L2846.1,678.2 L2852.5,684.5 L2858.9,697.1 L2865.3,697.1 L2871.7,703.4 L2878.1,703.4 L2884.5,703.4 L2890.8,703.4 L2897.2,703.4 L2903.6,703.4 L2910.0,703.4 L2916.4,703.4 L2922.8,703.4 L2929.2,703.4 L2935.6,703.4 L2941.9,703.4 L2948.3,697.1 L2958.3,678.2 L2964.7,672.0 L2971.1,672.0 L2977.5,665.7 L2983.9,665.7 L2990.3,665.7 L2996.8,672.0 L3003.2,672.0 L3009.6,678.2 L3016.0,678.2 L3022.4,684.5 L3028.8,684.5 L3035.2,690.8 L3041.6,690.8 L3048.0,697.1 L3054.4,697.1 L3060.8,697.1 L3067.2,697.1 L3073.6,697.1 L3080.0,703.4 L3086.4,703.4 L3092.8,703.4 L3099.2,690.8 L3105.6,684.5 L3112.0,678.2 L3118.4,672.0 L3124.8,665.7 L3131.2,665.7 L3137.6,665.7 L3144.0,665.7 L3150.4,665.7 L3156.9,672.0 L3163.3,678.2 L3169.7,678.2 L3176.1,684.5 L3182.5,690.8 L3188.9,690.8 L3195.3,697.1 L3201.7,697.1 L3208.1,697.1 L3214.5,703.4 L3220.9,703.4 L3227.3,703.4 L3233.7,709.7 L3240.1,709.7 L3246.5,709.7 L3252.9,709.7 L3259.3,703.4 L3265.7,697.1 L3272.1,684.5 L3278.5,684.5 L3284.9,678.2 L3291.3,678.2 L3297.7,678.2 L3304.1,684.5 L3310.5,690.8 L3317.0,697.1 L3323.4,703.4 L3329.8,709.7 L3336.2,715.9 L3340.0,715.9" fill="none" stroke="#a45ba6" stroke-width="2.2" stroke-linejoin="round"/><path d="M1818.0,778.8 L1824.4,778.8 L1830.8,785.1 L1837.2,791.3 L1843.5,791.3 L1849.9,791.3 L1856.3,791.3 L1862.7,791.3 L1869.1,797.6 L1875.5,785.1 L1881.9,766.2 L1888.2,753.6 L1894.6,734.8 L1901.0,728.5 L1907.4,722.2 L1913.8,722.2 L1920.2,722.2 L1926.6,728.5 L1932.9,734.8 L1939.3,741.1 L1945.7,741.1 L1952.1,747.4 L1958.5,747.4 L1964.9,741.1 L1971.3,741.1 L1977.7,747.4 L1984.0,747.4 L1990.4,747.4 L1996.8,747.4 L2003.2,753.6 L2009.6,753.6 L2016.0,753.6 L2022.4,753.6 L2028.7,734.8 L2035.1,722.2 L2041.5,709.7 L2047.9,703.4 L2054.3,697.1 L2060.7,697.1 L2067.1,697.1 L2073.4,697.1 L2079.8,703.4 L2086.2,703.4 L2092.6,709.7 L2099.0,709.7 L2105.4,709.7 L2111.8,709.7 L2118.1,709.7 L2124.5,709.7 L2130.9,709.7 L2137.3,709.7 L2143.7,709.7 L2150.1,709.7 L2156.5,709.7 L2162.8,715.9 L2169.2,715.9 L2175.6,715.9 L2182.0,709.7 L2188.4,703.4 L2194.8,697.1 L2201.2,690.8 L2207.5,690.8 L2213.9,684.5 L2220.3,684.5 L2226.7,684.5 L2233.1,690.8 L2239.5,690.8 L2245.9,690.8 L2252.2,697.1 L2258.6,703.4 L2265.0,703.4 L2271.4,703.4 L2277.8,709.7 L2284.2,709.7 L2290.6,715.9 L2296.9,722.2 L2303.3,728.5 L2309.7,728.5 L2316.1,734.8 L2322.5,734.8 L2328.9,734.8 L2335.3,722.2 L2341.7,715.9 L2348.0,703.4 L2354.4,697.1 L2360.8,690.8 L2367.2,684.5 L2373.6,684.5 L2380.0,690.8 L2386.4,697.1 L2392.7,703.4 L2399.1,709.7 L2405.5,715.9 L2411.9,722.2 L2418.3,728.5 L2424.7,734.8 L2431.1,741.1 L2437.4,741.1 L2443.8,753.6 L2450.2,753.6 L2456.6,753.6 L2463.0,753.6 L2469.4,759.9 L2475.8,759.9 L2482.1,753.6 L2488.5,741.1 L2494.9,722.2 L2501.3,709.7 L2507.7,703.4 L2514.1,690.8 L2520.5,684.5 L2526.8,684.5 L2533.2,690.8 L2539.6,697.1 L2546.0,709.7 L2552.4,715.9 L2558.8,722.2 L2565.2,722.2 L2571.5,722.2 L2577.9,728.5 L2584.3,728.5 L2590.7,728.5 L2597.1,728.5 L2603.5,734.8 L2609.9,734.8 L2616.2,734.8 L2622.6,734.8 L2629.0,728.5 L2635.4,728.5 L2641.8,715.9 L2648.2,697.1 L2654.6,690.8 L2661.0,678.2 L2667.3,678.2 L2673.7,672.0 L2680.1,672.0 L2686.5,672.0 L2692.9,678.2 L2699.3,684.5 L2705.7,684.5 L2712.0,684.5 L2718.4,690.8 L2724.8,690.8 L2731.2,690.8 L2737.6,690.8 L2744.0,690.8 L2750.4,690.8 L2756.7,697.1 L2763.1,697.1 L2769.5,703.4 L2775.9,703.4 L2782.3,703.4 L2788.7,703.4 L2795.1,690.8 L2801.4,678.2 L2807.8,672.0 L2814.2,665.7 L2820.6,659.4 L2827.0,653.1 L2833.4,653.1 L2839.8,659.4 L2846.1,665.7 L2852.5,672.0 L2858.9,678.2 L2865.3,678.2 L2871.7,684.5 L2878.1,684.5 L2884.5,678.2 L2890.8,678.2 L2897.2,678.2 L2903.6,678.2 L2910.0,678.2 L2916.4,678.2 L2922.8,684.5 L2929.2,684.5 L2935.6,684.5 L2941.9,684.5 L2948.3,678.2 L2958.3,659.4 L2964.7,659.4 L2971.1,653.1 L2977.5,653.1 L2983.9,653.1 L2990.3,653.1 L2996.8,659.4 L3003.2,659.4 L3009.6,665.7 L3016.0,665.7 L3022.4,672.0 L3028.8,672.0 L3035.2,672.0 L3041.6,678.2 L3048.0,678.2 L3054.4,678.2 L3060.8,684.5 L3067.2,684.5 L3073.6,684.5 L3080.0,684.5 L3086.4,684.5 L3092.8,684.5 L3099.2,678.2 L3105.6,672.0 L3112.0,659.4 L3118.4,653.1 L3124.8,653.1 L3131.2,646.8 L3137.6,646.8 L3144.0,646.8 L3150.4,653.1 L3156.9,659.4 L3163.3,665.7 L3169.7,665.7 L3176.1,672.0 L3182.5,672.0 L3188.9,672.0 L3195.3,678.2 L3201.7,678.2 L3208.1,678.2 L3214.5,678.2 L3220.9,678.2 L3227.3,684.5 L3233.7,684.5 L3240.1,684.5 L3246.5,684.5 L3252.9,684.5 L3259.3,678.2 L3265.7,672.0 L3272.1,665.7 L3278.5,659.4 L3284.9,659.4 L3291.3,659.4 L3297.7,659.4 L3304.1,665.7 L3310.5,672.0 L3317.0,672.0 L3323.4,678.2 L3329.8,684.5 L3336.2,690.8 L3340.0,690.8" fill="none" stroke="#cc3335" stroke-width="2.2" stroke-linejoin="round"/><path d="M1875.5,949.6 L1881.9,960.1 L1888.2,965.3 L1894.6,991.5 L1901.0,989.8 L1907.4,968.8 L1913.8,937.3 L1920.2,942.6 L1926.6,898.9 L1932.9,897.1 L1939.3,893.6 L1945.7,911.1 L1952.1,888.4 L1958.5,883.1 L1964.9,881.4 L1971.3,881.4 L1977.7,884.9 L1984.0,895.4 L1990.4,902.4 L1996.8,914.6 L2003.2,933.8 L2009.6,942.6 L2016.0,914.6 L2022.4,925.1 L2028.7,905.9 L2035.1,898.9 L2041.5,888.4 L2047.9,888.4 L2054.3,881.4 L2060.7,879.6 L2067.5,877.6 L2076.5,876.8 L2090.1,876.8 L2105.2,877.9 L2127.9,879.1 L2143.1,882.1 L2165.8,885.9 L2180.9,882.9 L2193.0,883.9 L2200.6,884.4 L2212.7,880.6 L2224.8,880.6 L2235.4,882.9 L2244.5,886.7 L2253.6,892.7 L2261.2,899.5 L2270.2,906.3 L2277.8,910.9 L2283.9,916.2 L2289.2,922.2 L2293.0,933.6 L2296.0,942.7 L2299.0,957.8 L2302.0,974.5 L2308.1,981.3 L2314.1,990.4 L2321.7,992.3 L2327.8,992.3 L2333.8,996.4 L2339.9,1007.8 L2347.5,1016.9 L2352.8,1016.9 L2359.6,1001.7 L2365.6,1001.7 L2371.7,995.7 L2379.3,987.3 L2385.3,985.1 L2391.4,979.0 L2397.4,978.3 L2403.5,973.0 L2409.5,960.8 L2417.1,950.2 L2426.2,938.9 L2430.7,935.9 L2436.0,935.1 L2441.3,941.2 L2447.4,950.2 L2455.0,962.4 L2462.5,971.4 L2468.6,978.3 L2473.9,982.0 L2480.7,977.5 L2487.5,973.7 L2492.8,973.4 L2498.9,968.4 L2504.9,954.8 L2512.5,943.7 L2519.3,947.2 L2524.6,953.3 L2531.4,957.8 L2538.2,947.2 L2544.3,939.6 L2551.1,936.6 L2559.4,938.9 L2568.5,942.7 L2570.0,944.2 L2576.1,943.9 L2585.1,945.4 L2597.3,944.9 L2609.4,944.2 L2621.5,948.0 L2633.6,952.5 L2639.6,953.0 L2647.2,955.5 L2653.3,959.3 L2659.3,964.6 L2665.4,966.1 L2676.0,962.7 L2683.6,962.4 L2694.1,960.8 L2703.2,962.7 L2715.3,966.1 L2727.5,966.4 L2736.5,964.6 L2748.7,962.4 L2754.7,962.1 L2760.8,960.8 L2768.3,944.2 L2774.4,942.4 L2780.4,941.9 L2786.5,929.8 L2793.3,942.4 L2800.1,941.9 L2806.2,940.4 L2813.8,939.9 L2821.3,936.6 L2827.4,932.1 L2835.0,929.0 L2842.5,927.5 L2850.1,931.3 L2856.1,931.3 L2863.7,926.8 L2872.8,916.9 L2880.4,907.1 L2887.9,898.8 L2894.0,895.0 L2900.1,894.2 L2907.6,896.5 L2915.2,900.3 L2922.8,902.6 L2930.3,906.3 L2939.4,907.1 L2948.5,904.8 L2950.0,905.6 L2957.6,900.3 L2965.1,897.3 L2972.0,894.2 L2989.4,894.2 L2998.4,896.9 L3010.6,900.3 L3022.7,901.8 L3034.8,901.0 L3046.9,901.5 L3056.0,903.6 L3086.3,903.6 L3101.4,903.0 L3124.1,903.0 L3131.7,905.6 L3139.3,910.6 L3146.8,915.4 L3155.9,920.7 L3162.7,924.2 L3169.5,922.7 L3177.1,923.3 L3183.2,924.2 L3200.6,924.2 L3207.4,920.7 L3215.0,913.9 L3222.5,905.6 L3230.1,898.0 L3237.7,892.7 L3241.4,890.9 L3257.3,890.9 L3264.9,892.7 L3271.0,892.7 L3278.5,894.5 L3285.4,897.3 L3292.2,901.8 L3298.2,907.9 L3304.3,916.9 L3310.3,930.6 L3316.1,939.9 L3322.4,935.1 L3328.5,941.2 L3334.6,944.9 L3340.0,945.4 L3340.0,1052.7 L1875.5,1052.7Z" fill="rgba(118,118,118,.225)"/><path d="M1875.5,949.6 L1881.9,960.1 L1888.2,965.3 L1894.6,991.5 L1901.0,989.8 L1907.4,968.8 L1913.8,937.3 L1920.2,942.6 L1926.6,898.9 L1932.9,897.1 L1939.3,893.6 L1945.7,911.1 L1952.1,888.4 L1958.5,883.1 L1964.9,881.4 L1971.3,881.4 L1977.7,884.9 L1984.0,895.4 L1990.4,902.4 L1996.8,914.6 L2003.2,933.8 L2009.6,942.6 L2016.0,914.6 L2022.4,925.1 L2028.7,905.9 L2035.1,898.9 L2041.5,888.4 L2047.9,888.4 L2054.3,881.4 L2060.7,879.6 L2067.5,877.6 L2076.5,876.8 L2090.1,876.8 L2105.2,877.9 L2127.9,879.1 L2143.1,882.1 L2165.8,885.9 L2180.9,882.9 L2193.0,883.9 L2200.6,884.4 L2212.7,880.6 L2224.8,880.6 L2235.4,882.9 L2244.5,886.7 L2253.6,892.7 L2261.2,899.5 L2270.2,906.3 L2277.8,910.9 L2283.9,916.2 L2289.2,922.2 L2293.0,933.6 L2296.0,942.7 L2299.0,957.8 L2302.0,974.5 L2308.1,981.3 L2314.1,990.4 L2321.7,992.3 L2327.8,992.3 L2333.8,996.4 L2339.9,1007.8 L2347.5,1016.9 L2352.8,1016.9 L2359.6,1001.7 L2365.6,1001.7 L2371.7,995.7 L2379.3,987.3 L2385.3,985.1 L2391.4,979.0 L2397.4,978.3 L2403.5,973.0 L2409.5,960.8 L2417.1,950.2 L2426.2,938.9 L2430.7,935.9 L2436.0,935.1 L2441.3,941.2 L2447.4,950.2 L2455.0,962.4 L2462.5,971.4 L2468.6,978.3 L2473.9,982.0 L2480.7,977.5 L2487.5,973.7 L2492.8,973.4 L2498.9,968.4 L2504.9,954.8 L2512.5,943.7 L2519.3,947.2 L2524.6,953.3 L2531.4,957.8 L2538.2,947.2 L2544.3,939.6 L2551.1,936.6 L2559.4,938.9 L2568.5,942.7 L2570.0,944.2 L2576.1,943.9 L2585.1,945.4 L2597.3,944.9 L2609.4,944.2 L2621.5,948.0 L2633.6,952.5 L2639.6,953.0 L2647.2,955.5 L2653.3,959.3 L2659.3,964.6 L2665.4,966.1 L2676.0,962.7 L2683.6,962.4 L2694.1,960.8 L2703.2,962.7 L2715.3,966.1 L2727.5,966.4 L2736.5,964.6 L2748.7,962.4 L2754.7,962.1 L2760.8,960.8 L2768.3,944.2 L2774.4,942.4 L2780.4,941.9 L2786.5,929.8 L2793.3,942.4 L2800.1,941.9 L2806.2,940.4 L2813.8,939.9 L2821.3,936.6 L2827.4,932.1 L2835.0,929.0 L2842.5,927.5 L2850.1,931.3 L2856.1,931.3 L2863.7,926.8 L2872.8,916.9 L2880.4,907.1 L2887.9,898.8 L2894.0,895.0 L2900.1,894.2 L2907.6,896.5 L2915.2,900.3 L2922.8,902.6 L2930.3,906.3 L2939.4,907.1 L2948.5,904.8 L2950.0,905.6 L2957.6,900.3 L2965.1,897.3 L2972.0,894.2 L2989.4,894.2 L2998.4,896.9 L3010.6,900.3 L3022.7,901.8 L3034.8,901.0 L3046.9,901.5 L3056.0,903.6 L3086.3,903.6 L3101.4,903.0 L3124.1,903.0 L3131.7,905.6 L3139.3,910.6 L3146.8,915.4 L3155.9,920.7 L3162.7,924.2 L3169.5,922.7 L3177.1,923.3 L3183.2,924.2 L3200.6,924.2 L3207.4,920.7 L3215.0,913.9 L3222.5,905.6 L3230.1,898.0 L3237.7,892.7 L3241.4,890.9 L3257.3,890.9 L3264.9,892.7 L3271.0,892.7 L3278.5,894.5 L3285.4,897.3 L3292.2,901.8 L3298.2,907.9 L3304.3,916.9 L3310.3,930.6 L3316.1,939.9 L3322.4,935.1 L3328.5,941.2 L3334.6,944.9 L3340.0,945.4" fill="none" stroke="#9d9d9d" stroke-width="1.1"/><path d="M1875.5,1049.2 L1881.9,1051.0 L1888.2,1051.0 L1894.6,1051.0 L1901.0,1051.0 L1907.4,1051.0 L1913.8,1051.0 L1920.2,1047.5 L1926.6,1045.7 L1932.9,1044.0 L1939.3,1044.0 L1945.7,1042.2 L1952.1,1035.2 L1958.5,1021.2 L1964.9,1010.7 L1971.3,988.0 L1977.7,998.5 L1984.0,1016.0 L1990.4,1028.2 L1996.8,1038.7 L2003.2,1038.7 L2009.6,1038.7 L2016.0,1038.7 L2022.4,1040.5 L2028.7,1026.5 L2035.1,1026.5 L2041.5,1026.5 L2047.9,1026.5 L2054.3,1010.7 L2060.7,981.0 L2067.1,954.8 L2073.4,933.8 L2079.8,912.9 L2086.2,909.4 L2092.6,912.9 L2099.0,926.8 L2105.4,940.8 L2111.8,953.1 L2118.1,956.6 L2124.5,961.8 L2130.9,968.8 L2137.3,970.5 L2143.7,975.8 L2150.1,993.3 L2156.5,1010.7 L2162.8,988.0 L2169.2,1010.7 L2175.6,998.5 L2182.0,998.5 L2188.4,1010.7 L2194.8,1010.7 L2196.1,1010.0 L2205.9,1010.0 L2212.7,997.9 L2225.6,997.9 L2232.4,1010.0 L2238.4,1013.8 L2244.5,1040.3 L2256.6,1040.3 L2264.2,1041.5 L2270.2,1036.5 L2276.3,1036.5 L2283.9,1038.8 L2289.2,1041.8 L2296.0,1040.3 L2314.1,1040.3 L2321.7,1041.8 L2327.8,1041.8 L2333.8,1044.1 L2339.9,1047.1 L2347.5,1049.0 L2371.7,1049.0 L2378.5,1041.8 L2384.5,1047.1 L2391.4,1043.8 L2397.4,1043.4 L2403.5,1041.8 L2410.3,1034.7 L2416.3,1041.8 L2429.2,1041.8 L2436.0,1036.5 L2442.1,1034.7 L2455.0,1034.7 L2467.8,1037.3 L2474.6,1037.8 L2480.7,1040.3 L2487.5,1044.1 L2493.6,1047.1 L2499.6,1047.1 L2506.4,1041.8 L2512.5,1049.0 L2518.5,1049.0 L2525.4,1044.1 L2531.4,1048.7 L2538.2,1047.1 L2544.3,1038.8 L2551.1,1032.8 L2557.1,1024.4 L2564.0,1022.2 L2570.0,1010.5 L2580.6,1013.8 L2588.9,1020.6 L2595.7,1019.1 L2601.8,1019.1 L2608.6,1025.6 L2621.5,1025.6 L2627.2,1022.6 L2633.6,1025.9 L2640.4,1030.2 L2647.2,1038.1 L2652.5,1038.1 L2659.3,1040.3 L2665.4,1041.8 L2677.5,1041.8 L2685.1,1039.9 L2691.1,1038.1 L2697.2,1036.5 L2704.0,1040.3 L2716.1,1040.3 L2722.9,1031.7 L2735.0,1031.2 L2741.8,1024.4 L2754.7,1024.4 L2761.1,1030.8 L2767.6,1012.3 L2786.8,1012.3 L2793.3,1032.8 L2800.1,1036.5 L2806.2,1038.1 L2812.2,1038.1 L2818.3,1040.3 L2824.4,1032.0 L2831.9,1023.7 L2838.0,1011.6 L2844.0,998.7 L2850.1,991.1 L2856.1,987.3 L2862.2,985.8 L2869.0,985.4 L2875.1,979.0 L2887.9,978.7 L2894.8,971.7 L2900.8,973.0 L2906.9,974.5 L2913.7,977.8 L2919.7,979.8 L2927.3,984.3 L2933.4,997.9 L2939.4,1000.2 L2946.2,1011.6 L2950.0,1011.6 L2965.1,1011.6 L2972.0,998.4 L2990.1,998.4 L2995.4,992.9 L3003.0,987.8 L3010.6,1011.6 L3015.9,1011.6 L3022.7,999.9 L3028.7,998.4 L3034.8,999.9 L3040.8,999.4 L3048.1,994.5 L3054.5,999.9 L3061.3,1011.6 L3067.3,1011.6 L3073.4,991.1 L3079.4,990.7 L3086.3,984.3 L3092.3,985.4 L3099.1,987.3 L3105.9,998.4 L3112.0,1010.0 L3118.1,1010.5 L3124.1,1012.0 L3131.7,1014.1 L3137.7,1014.1 L3143.8,991.1 L3155.9,987.8 L3162.0,977.5 L3168.8,977.2 L3175.6,975.7 L3181.6,975.2 L3187.7,973.7 L3193.8,975.2 L3200.6,982.0 L3207.4,982.0 L3213.4,980.8 L3219.5,980.5 L3226.3,978.7 L3233.1,978.7 L3239.2,966.1 L3246.0,977.8 L3252.0,984.3 L3258.9,987.8 L3264.9,988.4 L3271.0,991.1 L3277.8,1011.6 L3290.7,1011.6 L3296.7,996.4 L3303.5,996.4 L3309.6,998.4 L3316.4,1011.6 L3340.0,1011.6 L3340.0,1052.7 L1875.5,1052.7Z" fill="rgba(143,197,227,.62)"/><path d="M1875.5,1049.2 L1881.9,1051.0 L1888.2,1051.0 L1894.6,1051.0 L1901.0,1051.0 L1907.4,1051.0 L1913.8,1051.0 L1920.2,1047.5 L1926.6,1045.7 L1932.9,1044.0 L1939.3,1044.0 L1945.7,1042.2 L1952.1,1035.2 L1958.5,1021.2 L1964.9,1010.7 L1971.3,988.0 L1977.7,998.5 L1984.0,1016.0 L1990.4,1028.2 L1996.8,1038.7 L2003.2,1038.7 L2009.6,1038.7 L2016.0,1038.7 L2022.4,1040.5 L2028.7,1026.5 L2035.1,1026.5 L2041.5,1026.5 L2047.9,1026.5 L2054.3,1010.7 L2060.7,981.0 L2067.1,954.8 L2073.4,933.8 L2079.8,912.9 L2086.2,909.4 L2092.6,912.9 L2099.0,926.8 L2105.4,940.8 L2111.8,953.1 L2118.1,956.6 L2124.5,961.8 L2130.9,968.8 L2137.3,970.5 L2143.7,975.8 L2150.1,993.3 L2156.5,1010.7 L2162.8,988.0 L2169.2,1010.7 L2175.6,998.5 L2182.0,998.5 L2188.4,1010.7 L2194.8,1010.7 L2196.1,1010.0 L2205.9,1010.0 L2212.7,997.9 L2225.6,997.9 L2232.4,1010.0 L2238.4,1013.8 L2244.5,1040.3 L2256.6,1040.3 L2264.2,1041.5 L2270.2,1036.5 L2276.3,1036.5 L2283.9,1038.8 L2289.2,1041.8 L2296.0,1040.3 L2314.1,1040.3 L2321.7,1041.8 L2327.8,1041.8 L2333.8,1044.1 L2339.9,1047.1 L2347.5,1049.0 L2371.7,1049.0 L2378.5,1041.8 L2384.5,1047.1 L2391.4,1043.8 L2397.4,1043.4 L2403.5,1041.8 L2410.3,1034.7 L2416.3,1041.8 L2429.2,1041.8 L2436.0,1036.5 L2442.1,1034.7 L2455.0,1034.7 L2467.8,1037.3 L2474.6,1037.8 L2480.7,1040.3 L2487.5,1044.1 L2493.6,1047.1 L2499.6,1047.1 L2506.4,1041.8 L2512.5,1049.0 L2518.5,1049.0 L2525.4,1044.1 L2531.4,1048.7 L2538.2,1047.1 L2544.3,1038.8 L2551.1,1032.8 L2557.1,1024.4 L2564.0,1022.2 L2570.0,1010.5 L2580.6,1013.8 L2588.9,1020.6 L2595.7,1019.1 L2601.8,1019.1 L2608.6,1025.6 L2621.5,1025.6 L2627.2,1022.6 L2633.6,1025.9 L2640.4,1030.2 L2647.2,1038.1 L2652.5,1038.1 L2652.5,1052.7 L1875.5,1052.7Z" fill="rgba(186,158,203,.5)"/><path d="M2704.0,1040.3 L2716.1,1040.3 L2722.9,1031.7 L2735.0,1031.2 L2741.8,1024.4 L2754.7,1024.4 L2761.1,1030.8 L2767.6,1012.3 L2786.8,1012.3 L2793.3,1032.8 L2793.3,1052.7 L2704.0,1052.7Z" fill="rgba(186,158,203,.5)"/><path d="M2844.0,998.7 L2850.1,991.1 L2856.1,987.3 L2862.2,985.8 L2869.0,985.4 L2875.1,979.0 L2887.9,978.7 L2894.8,971.7 L2900.8,973.0 L2906.9,974.5 L2913.7,977.8 L2919.7,979.8 L2927.3,984.3 L2933.4,997.9 L2939.4,1000.2 L2939.4,1052.7 L2844.0,1052.7Z" fill="rgba(186,158,203,.5)"/><path d="M2972.0,998.4 L2990.1,998.4 L2995.4,992.9 L3003.0,987.8 L3003.0,1052.7 L2972.0,1052.7Z" fill="rgba(186,158,203,.5)"/><path d="M3022.7,999.9 L3028.7,998.4 L3034.8,999.9 L3040.8,999.4 L3048.1,994.5 L3054.5,999.9 L3054.5,1052.7 L3022.7,1052.7Z" fill="rgba(186,158,203,.5)"/><path d="M3074.1,991.1 L3079.4,990.7 L3086.3,984.3 L3092.3,985.4 L3099.1,987.3 L3105.9,998.4 L3105.9,1052.7 L3074.1,1052.7Z" fill="rgba(186,158,203,.5)"/><path d="M3143.8,991.1 L3155.9,987.8 L3162.0,977.5 L3168.8,977.2 L3175.6,975.7 L3181.6,975.2 L3187.7,973.7 L3193.8,975.2 L3200.6,982.0 L3207.4,982.0 L3213.4,980.8 L3219.5,980.5 L3226.3,978.7 L3233.1,978.7 L3239.2,966.1 L3246.0,977.8 L3252.0,984.3 L3258.9,987.8 L3264.9,988.4 L3271.0,991.1 L3271.0,1052.7 L3143.8,1052.7Z" fill="rgba(186,158,203,.5)"/><path d="M3296.7,996.4 L3303.5,996.4 L3309.6,998.4 L3309.6,1052.7 L3296.7,1052.7Z" fill="rgba(186,158,203,.5)"/><path d="M3329.3,1011.6 L3340.0,1011.6 L3340.0,1052.7 L3329.3,1052.7Z" fill="rgba(186,158,203,.5)"/><path d="M1875.5,1049.2 L1881.9,1051.0 L1888.2,1051.0 L1894.6,1051.0 L1901.0,1051.0 L1907.4,1051.0 L1913.8,1051.0 L1920.2,1047.5 L1926.6,1045.7 L1932.9,1044.0 L1939.3,1044.0 L1945.7,1042.2 L1952.1,1035.2 L1958.5,1021.2 L1964.9,1010.7 L1971.3,988.0 L1977.7,998.5 L1984.0,1016.0 L1990.4,1028.2 L1996.8,1038.7 L2003.2,1038.7 L2009.6,1038.7 L2016.0,1038.7 L2022.4,1040.5 L2028.7,1026.5 L2035.1,1026.5 L2041.5,1026.5 L2047.9,1026.5 L2054.3,1010.7 L2060.7,981.0 L2067.1,954.8 L2073.4,933.8 L2079.8,912.9 L2086.2,909.4 L2092.6,912.9 L2099.0,926.8 L2105.4,940.8 L2111.8,953.1 L2118.1,956.6 L2124.5,961.8 L2130.9,968.8 L2137.3,970.5 L2143.7,975.8 L2150.1,993.3 L2156.5,1010.7 L2162.8,988.0 L2169.2,1010.7 L2175.6,998.5 L2182.0,998.5 L2188.4,1010.7 L2194.8,1010.7 L2196.1,1010.0 L2205.9,1010.0 L2212.7,997.9 L2225.6,997.9 L2232.4,1010.0 L2238.4,1013.8 L2244.5,1040.3 L2256.6,1040.3 L2264.2,1041.5 L2270.2,1036.5 L2276.3,1036.5 L2283.9,1038.8 L2289.2,1041.8 L2296.0,1040.3 L2314.1,1040.3 L2321.7,1041.8 L2327.8,1041.8 L2333.8,1044.1 L2339.9,1047.1 L2347.5,1049.0 L2371.7,1049.0 L2378.5,1041.8 L2384.5,1047.1 L2391.4,1043.8 L2397.4,1043.4 L2403.5,1041.8 L2410.3,1034.7 L2416.3,1041.8 L2429.2,1041.8 L2436.0,1036.5 L2442.1,1034.7 L2455.0,1034.7 L2467.8,1037.3 L2474.6,1037.8 L2480.7,1040.3 L2487.5,1044.1 L2493.6,1047.1 L2499.6,1047.1 L2506.4,1041.8 L2512.5,1049.0 L2518.5,1049.0 L2525.4,1044.1 L2531.4,1048.7 L2538.2,1047.1 L2544.3,1038.8 L2551.1,1032.8 L2557.1,1024.4 L2564.0,1022.2 L2570.0,1010.5 L2580.6,1013.8 L2588.9,1020.6 L2595.7,1019.1 L2601.8,1019.1 L2608.6,1025.6 L2621.5,1025.6 L2627.2,1022.6 L2633.6,1025.9 L2640.4,1030.2 L2647.2,1038.1 L2652.5,1038.1 L2659.3,1040.3 L2665.4,1041.8 L2677.5,1041.8 L2685.1,1039.9 L2691.1,1038.1 L2697.2,1036.5 L2704.0,1040.3 L2716.1,1040.3 L2722.9,1031.7 L2735.0,1031.2 L2741.8,1024.4 L2754.7,1024.4 L2761.1,1030.8 L2767.6,1012.3 L2786.8,1012.3 L2793.3,1032.8 L2800.1,1036.5 L2806.2,1038.1 L2812.2,1038.1 L2818.3,1040.3 L2824.4,1032.0 L2831.9,1023.7 L2838.0,1011.6 L2844.0,998.7 L2850.1,991.1 L2856.1,987.3 L2862.2,985.8 L2869.0,985.4 L2875.1,979.0 L2887.9,978.7 L2894.8,971.7 L2900.8,973.0 L2906.9,974.5 L2913.7,977.8 L2919.7,979.8 L2927.3,984.3 L2933.4,997.9 L2939.4,1000.2 L2946.2,1011.6 L2950.0,1011.6 L2965.1,1011.6 L2972.0,998.4 L2990.1,998.4 L2995.4,992.9 L3003.0,987.8 L3010.6,1011.6 L3015.9,1011.6 L3022.7,999.9 L3028.7,998.4 L3034.8,999.9 L3040.8,999.4 L3048.1,994.5 L3054.5,999.9 L3061.3,1011.6 L3067.3,1011.6 L3073.4,991.1 L3079.4,990.7 L3086.3,984.3 L3092.3,985.4 L3099.1,987.3 L3105.9,998.4 L3112.0,1010.0 L3118.1,1010.5 L3124.1,1012.0 L3131.7,1014.1 L3137.7,1014.1 L3143.8,991.1 L3155.9,987.8 L3162.0,977.5 L3168.8,977.2 L3175.6,975.7 L3181.6,975.2 L3187.7,973.7 L3193.8,975.2 L3200.6,982.0 L3207.4,982.0 L3213.4,980.8 L3219.5,980.5 L3226.3,978.7 L3233.1,978.7 L3239.2,966.1 L3246.0,977.8 L3252.0,984.3 L3258.9,987.8 L3264.9,988.4 L3271.0,991.1 L3277.8,1011.6 L3290.7,1011.6 L3296.7,996.4 L3303.5,996.4 L3309.6,998.4 L3316.4,1011.6 L3340.0,1011.6" fill="none" stroke="#5ea6d6" stroke-width="1.4" stroke-linejoin="round"/><path d="M1818.0,924.2 L1824.4,922.8 L1830.8,920.4 L1837.2,909.7 L1843.5,909.7 L1849.9,909.7 L1856.3,908.1 L1862.7,910.2 L1869.1,893.6 L1875.5,911.1 L1881.9,926.8 L1888.2,942.6 L1894.6,956.6 L1901.0,965.3 L1907.4,967.0 L1913.8,965.3 L1920.2,958.3 L1926.6,946.1 L1932.9,933.8 L1939.3,930.3 L1945.7,923.3 L1952.1,919.9 L1958.5,918.1 L1964.9,916.4 L1971.3,914.6 L1977.7,911.1 L1984.0,909.4 L1990.4,909.4 L1996.8,909.4 L2003.2,909.4 L2009.6,909.4 L2016.0,909.4 L2022.4,911.1 L2028.7,918.1 L2035.1,926.8 L2041.5,935.6 L2047.9,949.6 L2054.3,956.6 L2060.7,958.3 L2067.1,949.6 L2073.4,942.6 L2079.8,928.6 L2086.2,921.6 L2092.6,918.1 L2099.0,907.6 L2105.4,901.5 L2111.8,902.9 L2118.1,902.4 L2124.5,900.6 L2130.9,899.4 L2137.3,899.4 L2156.5,899.4 L2175.6,899.4 L2182.0,902.4 L2188.4,909.4 L2194.8,913.6 L2199.1,915.4 L2205.1,920.0 L2211.2,921.2 L2218.8,918.8 L2224.8,913.9 L2230.9,908.6 L2238.4,901.0 L2244.5,899.5 L2250.6,901.0 L2258.1,903.3 L2264.2,901.5 L2271.0,906.3 L2282.4,906.3 L2289.2,912.4 L2295.5,905.1 L2302.0,910.1 L2308.1,910.1 L2314.9,906.3 L2321.0,910.1 L2327.8,910.6 L2333.8,915.4 L2339.9,924.5 L2347.5,935.1 L2353.5,942.7 L2359.6,946.5 L2365.6,948.7 L2371.7,947.2 L2378.5,942.7 L2385.3,935.1 L2391.4,928.3 L2397.4,924.5 L2403.5,922.2 L2410.3,919.2 L2416.3,918.4 L2423.2,915.4 L2429.2,913.9 L2436.0,913.9 L2442.1,910.6 L2448.1,908.6 L2455.0,909.7 L2461.0,912.1 L2467.8,910.1 L2474.6,910.1 L2480.7,913.9 L2487.5,922.2 L2493.6,930.6 L2499.6,938.9 L2506.4,947.2 L2512.5,952.5 L2519.3,953.3 L2524.6,952.5 L2531.4,946.5 L2538.2,935.1 L2544.3,925.3 L2551.1,919.2 L2557.1,916.9 L2564.0,910.6 L2570.0,904.8 L2577.6,898.0 L2585.1,895.0 L2592.7,892.0 L2601.8,891.2 L2609.4,888.9 L2615.4,889.4 L2621.5,891.2 L2627.5,894.2 L2633.6,895.0 L2639.6,900.3 L2647.2,907.9 L2653.3,913.9 L2659.3,920.0 L2665.4,924.2 L2679.0,924.2 L2685.1,920.7 L2691.1,907.9 L2697.2,898.8 L2703.2,895.0 L2709.3,892.7 L2716.1,887.9 L2729.0,887.9 L2736.5,888.9 L2742.6,889.4 L2750.2,891.2 L2756.2,893.5 L2762.3,896.5 L2768.3,898.8 L2774.4,901.0 L2780.4,903.0 L2786.5,905.6 L2792.6,910.1 L2798.6,918.4 L2806.2,928.3 L2812.2,934.3 L2818.3,938.1 L2825.9,939.3 L2831.9,936.6 L2838.0,931.3 L2844.0,923.7 L2850.1,918.1 L2856.1,917.7 L2862.2,912.4 L2869.0,910.1 L2881.9,910.1 L2887.9,909.1 L2900.1,909.1 L2907.6,910.1 L2919.7,910.1 L2927.3,907.9 L2933.4,905.1 L2939.4,903.6 L2945.5,905.6 L2950.0,906.3 L2956.1,913.9 L2963.6,919.2 L2971.2,922.2 L2978.0,924.5 L2984.8,922.2 L2990.9,918.4 L2996.9,910.9 L3003.0,905.6 L3010.6,902.6 L3016.6,901.8 L3022.7,901.8 L3029.5,903.3 L3034.8,901.8 L3040.8,900.3 L3048.4,899.5 L3054.5,899.5 L3060.5,898.0 L3067.3,899.5 L3078.7,899.5 L3086.3,901.8 L3092.3,903.6 L3099.1,907.1 L3105.9,913.9 L3112.0,920.7 L3118.1,926.0 L3124.9,930.6 L3130.2,931.3 L3137.0,931.3 L3143.8,926.0 L3149.8,918.4 L3156.7,912.1 L3163.5,910.1 L3169.5,908.6 L3175.6,907.1 L3181.6,905.6 L3187.7,905.1 L3193.8,901.8 L3199.8,900.3 L3207.4,898.0 L3213.4,896.5 L3219.5,896.5 L3226.3,898.0 L3233.1,896.9 L3239.2,900.3 L3245.2,901.0 L3252.0,905.6 L3258.9,910.9 L3264.9,915.4 L3271.0,919.2 L3277.0,919.7 L3283.1,922.2 L3289.1,922.7 L3295.2,920.0 L3301.2,915.4 L3307.3,910.6 L3313.4,907.9 L3319.4,907.1 L3340.0,907.1" fill="none" stroke="#8ec13f" stroke-width="2.3" stroke-linejoin="round"/><path d="M1818.0,888.2 L1819.4,887.6 L1822.2,886.5 L1825.4,886.5 L1829.0,887.6 L1834.0,888.2 L1840.4,888.2 L1846.6,888.1 L1852.5,887.9 L1857.2,887.4 L1860.9,886.4 L1864.7,885.9 L1868.6,885.9 L1873.2,887.2 L1878.5,889.9 L1883.1,893.1 L1886.8,896.9 L1890.2,900.5 L1893.3,903.9 L1896.3,907.1 L1899.3,910.1 L1902.7,912.8 L1906.5,915.0 L1909.9,916.7 L1913.0,917.7 L1916.7,918.2 L1921.3,918.4 L1925.8,918.1 L1930.4,917.3 L1935.3,917.3 L1940.6,918.1 L1946.3,919.4 L1952.3,921.3 L1959.1,924.1 L1966.7,927.9 L1973.1,930.6 L1978.4,932.1 L1983.7,933.8 L1989.0,935.7 L1994.7,937.6 L2000.8,939.5 L2005.7,941.2 L2009.5,942.7 L2014.0,944.8 L2019.3,947.4 L2025.0,951.4 L2031.0,956.7 L2036.0,962.4 L2039.8,968.4 L2043.2,973.7 L2046.2,978.3 L2050.0,983.2 L2054.5,988.5 L2059.4,993.8 L2064.7,999.1 L2070.0,1004.2 L2075.3,1009.1 L2079.5,1012.5 L2082.5,1014.4 L2087.4,1018.0 L2094.3,1023.3 L2101.4,1028.2 L2109.0,1032.8 L2116.6,1036.4 L2124.2,1039.0 L2131.0,1040.9 L2137.0,1042.0 L2142.1,1042.9 L2146.3,1043.5 L2150.8,1043.1 L2155.8,1041.8 L2162.0,1040.1 L2169.6,1038.2 L2177.1,1036.8 L2184.7,1035.8 L2191.1,1035.4 L2196.4,1035.7 L2202.5,1035.8 L2209.3,1035.8 L2214.6,1034.6 L2218.4,1032.4 L2222.2,1029.7 L2226.0,1026.7 L2229.7,1023.5 L2233.5,1020.1 L2237.7,1016.7 L2242.2,1013.3 L2247.5,1009.9 L2253.6,1006.4 L2259.6,1003.2 L2265.7,1000.2 L2271.8,997.2 L2277.8,994.1 L2284.2,990.4 L2291.1,985.8 L2296.4,981.3 L2300.1,976.7 L2304.3,972.6 L2308.8,968.8 L2313.4,965.2 L2317.9,961.8 L2322.1,959.2 L2325.9,957.5 L2329.1,956.4 L2331.7,955.9 L2334.8,956.4 L2338.2,957.9 L2341.8,958.9 L2345.6,959.7 L2349.7,960.7 L2354.3,961.8 L2358.8,962.5 L2363.4,962.9 L2368.3,962.7 L2373.6,962.0 L2378.5,960.5 L2383.0,958.2 L2386.8,956.1 L2389.8,954.2 L2393.1,952.4 L2396.5,950.8 L2401.0,949.6 L2406.7,949.0 L2412.9,948.5 L2419.8,948.2 L2426.9,947.9 L2434.5,947.6 L2442.5,947.3 L2450.8,946.7 L2458.0,945.7 L2464.0,944.2 L2469.0,942.9 L2472.7,941.7 L2476.1,941.1 L2479.2,940.9 L2482.4,941.2 L2485.8,942.0 L2489.0,943.0 L2492.0,944.3 L2495.1,945.7 L2498.1,947.2 L2501.3,948.7 L2504.7,950.2 L2507.9,951.5 L2511.0,952.5 L2514.2,953.3 L2517.6,954.1 L2521.0,954.6 L2524.4,954.9 L2527.6,955.0 L2530.7,954.9 L2533.7,954.2 L2536.7,953.1 L2539.7,951.9 L2542.8,950.6 L2546.0,949.3 L2549.4,948.1 L2553.2,947.2 L2557.3,946.5 L2561.7,946.0 L2566.2,945.8 L2568.9,945.6 L2569.6,945.5 L2573.8,945.4 L2581.4,945.4 L2587.8,945.3 L2593.1,945.1 L2599.1,944.6 L2606.0,943.8 L2611.6,942.5 L2616.2,940.6 L2620.7,938.9 L2625.3,937.4 L2629.8,936.2 L2634.3,935.3 L2638.9,934.8 L2643.4,934.8 L2648.0,935.6 L2652.5,937.1 L2657.1,938.4 L2661.6,939.4 L2665.8,940.1 L2669.5,940.3 L2673.3,940.0 L2677.1,939.3 L2680.5,938.5 L2683.6,937.8 L2687.3,936.0 L2691.9,933.4 L2696.4,930.7 L2701.0,928.1 L2705.5,925.9 L2710.0,924.2 L2714.6,922.8 L2719.1,921.7 L2723.7,920.8 L2728.2,920.0 L2733.1,919.2 L2738.4,918.2 L2743.7,917.4 L2749.0,916.9 L2754.3,916.3 L2759.6,915.7 L2764.5,914.9 L2769.1,913.7 L2773.6,912.7 L2777.9,911.9 L2781.7,912.3 L2784.9,913.9 L2788.4,915.4 L2792.2,916.9 L2796.0,918.8 L2799.8,921.1 L2803.5,923.9 L2807.3,927.3 L2811.5,930.7 L2816.0,934.2 L2820.6,936.8 L2825.1,938.7 L2830.0,940.4 L2835.3,941.9 L2840.2,942.3 L2844.8,941.5 L2849.3,940.7 L2853.9,939.8 L2858.4,939.5 L2863.0,939.8 L2867.5,940.6 L2872.0,941.8 L2876.6,943.4 L2881.1,945.4 L2885.7,947.4 L2890.2,949.3 L2894.4,950.8 L2898.2,951.9 L2903.1,952.6 L2909.1,952.9 L2914.8,952.5 L2920.1,951.5 L2925.4,950.7 L2930.7,950.2 L2936.4,950.2 L2942.4,950.7 L2946.6,951.0 L2948.9,951.0 L2952.3,951.9 L2956.8,953.8 L2961.4,955.5 L2965.9,957.1 L2970.4,958.3 L2975.0,959.2 L2980.3,959.7 L2986.3,960.0 L2991.3,959.7 L2995.0,958.9 L2999.2,957.9 L3003.7,956.6 L3008.3,955.6 L3012.8,954.9 L3018.5,954.3 L3025.3,953.8 L3032.5,954.2 L3040.1,955.4 L3047.7,956.2 L3055.2,956.6 L3062.8,956.8 L3070.4,956.8 L3077.2,957.0 L3083.2,957.5 L3088.5,958.3 L3093.1,959.2 L3097.6,960.5 L3102.2,962.2 L3106.7,964.4 L3111.2,967.1 L3116.2,969.6 L3121.5,972.0 L3126.8,973.9 L3132.1,975.1 L3137.7,976.1 L3143.8,977.0 L3149.8,978.2 L3155.9,979.5 L3161.6,981.1 L3166.9,982.7 L3172.2,984.4 L3177.5,986.0 L3182.4,987.4 L3186.9,988.4 L3192.2,989.2 L3198.3,989.8 L3204.0,990.1 L3209.3,990.3 L3214.6,990.1 L3219.9,989.6 L3225.2,988.8 L3230.5,987.8 L3236.1,987.1 L3242.2,986.5 L3247.5,986.4 L3252.0,986.7 L3256.6,987.4 L3261.1,988.4 L3265.3,989.6 L3269.1,991.1 L3272.7,992.3 L3276.1,993.0 L3280.2,993.2 L3285.2,992.8 L3290.3,992.1 L3295.6,991.2 L3298.2,990.7 L3307.3,988.1 L3315.6,985.8 L3318.7,973.0 L3322.1,961.1 L3331.5,959.6 L3340.0,958.1" fill="none" stroke="#1b1b21" stroke-width="2.6" stroke-linejoin="round"/><path d="M1875.2,1281.6 L1963.7,1281.6 L1970.4,1259.3 L1977.0,1259.3 L1983.7,1281.6 L2053.2,1281.6 L2059.8,1216.9 L2066.2,1171.8 L2072.5,1138.4 L2078.9,1105.7 L2085.5,1105.7 L2091.6,1136.8 L2097.6,1193.5 L2103.9,1215.2 L2110.6,1237.6 L2136.3,1237.6 L2142.6,1259.3 L2149.0,1259.3 L2155.7,1281.6 L2162.0,1259.3 L2168.3,1281.6 L2174.7,1259.3 L2181.4,1259.3 L2187.7,1281.6 L2206.7,1281.6 L2213.1,1259.3 L2225.8,1259.3 L2232.4,1281.6 L2837.1,1281.6 L2843.8,1259.3 L2849.8,1259.3 L2856.5,1237.6 L2913.9,1237.6 L2920.6,1251.9 L2927.2,1259.3 L2939.6,1259.3 L2946.3,1281.6 L2964.6,1281.6 L2971.3,1259.3 L3003.4,1259.3 L3010.0,1281.6 L3016.4,1281.6 L3022.7,1237.6 L3041.8,1237.6 L3048.1,1259.3 L3054.4,1259.3 L3060.8,1281.6 L3067.5,1281.6 L3080.1,1194.5 L3086.5,1171.8 L3093.2,1150.1 L3099.2,1150.1 L3105.9,1196.8 L3112.2,1281.6 L3137.6,1281.6 L3143.6,1228.6 L3150.3,1215.2 L3156.9,1215.2 L3162.9,1171.8 L3176.0,1171.8 L3201.3,1259.3 L3207.7,1259.3 L3213.7,1245.9 L3220.4,1259.3 L3226.7,1237.6 L3244.4,1237.6 L3252.1,1239.6 L3259.4,1237.6 L3271.1,1237.6 L3277.8,1281.6 L3290.5,1281.6 L3296.8,1259.3 L3309.5,1259.3 L3316.2,1281.6 L3340.0,1281.6 L3340.0,1282.1 L1875.2,1282.1Z" fill="rgba(70,120,45,.2)"/><path d="M1875.2,1281.6 L1963.7,1281.6 L1970.4,1259.3 L1977.0,1259.3 L1983.7,1281.6 L2053.2,1281.6 L2059.8,1216.9 L2066.2,1171.8 L2072.5,1138.4 L2078.9,1105.7 L2085.5,1105.7 L2091.6,1136.8 L2097.6,1193.5 L2103.9,1215.2 L2110.6,1237.6 L2136.3,1237.6 L2142.6,1259.3 L2149.0,1259.3 L2155.7,1281.6 L2162.0,1259.3 L2168.3,1281.6 L2174.7,1259.3 L2181.4,1259.3 L2187.7,1281.6 L2206.7,1281.6 L2213.1,1259.3 L2225.8,1259.3 L2232.4,1281.6 L2837.1,1281.6 L2843.8,1259.3 L2849.8,1259.3 L2856.5,1237.6 L2913.9,1237.6 L2920.6,1251.9 L2927.2,1259.3 L2939.6,1259.3 L2946.3,1281.6 L2964.6,1281.6 L2971.3,1259.3 L3003.4,1259.3 L3010.0,1281.6 L3016.4,1281.6 L3022.7,1237.6 L3041.8,1237.6 L3048.1,1259.3 L3054.4,1259.3 L3060.8,1281.6 L3067.5,1281.6 L3080.1,1194.5 L3086.5,1171.8 L3093.2,1150.1 L3099.2,1150.1 L3105.9,1196.8 L3112.2,1281.6 L3137.6,1281.6 L3143.6,1228.6 L3150.3,1215.2 L3156.9,1215.2 L3162.9,1171.8 L3176.0,1171.8 L3201.3,1259.3 L3207.7,1259.3 L3213.7,1245.9 L3220.4,1259.3 L3226.7,1237.6 L3244.4,1237.6 L3252.1,1239.6 L3259.4,1237.6 L3271.1,1237.6 L3277.8,1281.6 L3290.5,1281.6 L3296.8,1259.3 L3309.5,1259.3 L3316.2,1281.6 L3340.0,1281.6" fill="none" stroke="#3f7a25" stroke-width="2.1" stroke-linejoin="miter"/><path d="M1818.0,1380.8 L1818.5,1381.8 L1824.1,1385.1 L1830.1,1448.6 L1849.5,1448.6 L1855.8,1464.6 L1875.2,1464.6 L1881.6,1448.6 L1887.9,1416.8 L1894.2,1400.8 L1900.6,1416.8 L1906.9,1416.8 L1913.3,1400.8 L1919.6,1432.9 L1926.0,1463.6 L1938.6,1496.3 L1945.3,1496.3 L1951.7,1512.7 L2003.1,1512.7 L2015.4,1480.3 L2028.8,1480.3 L2035.1,1463.6 L2041.5,1432.9 L2047.8,1400.8 L2054.2,1385.1 L2073.2,1385.1 L2079.5,1400.8 L2098.9,1400.8 L2105.2,1416.8 L2137.3,1496.3 L2144.0,1496.3 L2150.3,1480.3 L2156.7,1496.3 L2163.3,1496.3 L2169.7,1480.3 L2182.4,1480.3 L2188.7,1463.6 L2195.0,1432.9 L2201.4,1416.8 L2207.7,1400.8 L2214.1,1400.8 L2220.8,1385.1 L2227.1,1385.1 L2239.8,1416.8 L2259.1,1416.8 L2265.5,1400.8 L2335.6,1400.8 L2354.3,1353.4 L2372.7,1353.4 L2379.3,1369.1 L2392.0,1400.8 L2417.7,1400.8 L2424.4,1416.8 L2443.4,1416.8 L2449.8,1432.9 L2487.8,1432.9 L2500.9,1400.8 L2519.6,1400.8 L2525.9,1385.1 L2532.2,1400.8 L2538.6,1416.8 L2551.3,1448.6 L2557.9,1448.6 L2564.0,1464.6 L2608.4,1464.6 L2615.1,1480.3 L2621.4,1464.6 L2640.1,1464.6 L2666.2,1400.8 L2678.5,1400.8 L2691.9,1448.6 L2704.6,1480.3 L2742.0,1480.3 L2748.6,1464.6 L2787.0,1464.6 L2812.1,1400.8 L2825.4,1400.8 L2831.1,1385.1 L2843.8,1416.8 L2850.5,1416.8 L2863.1,1400.8 L2869.8,1385.1 L2875.5,1385.1 L2882.2,1369.1 L2888.8,1369.1 L2895.5,1385.1 L2913.9,1385.1 L2920.6,1400.8 L2945.6,1400.8 L2952.3,1385.1 L2984.0,1385.1 L2997.4,1416.8 L3029.1,1416.8 L3035.7,1400.8 L3041.8,1416.8 L3099.2,1416.8 L3112.5,1385.1 L3124.2,1369.1 L3137.6,1369.1 L3157.6,1416.8 L3164.3,1416.8 L3171.0,1432.9 L3177.0,1416.8 L3183.6,1416.8 L3196.0,1385.1 L3208.7,1385.1 L3215.0,1369.1 L3234.4,1369.1 L3241.1,1353.4 L3259.4,1353.4 L3265.1,1337.4 L3271.1,1353.4 L3277.8,1337.4 L3284.5,1353.4 L3296.2,1353.4 L3302.8,1369.1 L3340.0,1369.1" fill="none" stroke="#3e66b4" stroke-width="1.2"/><polygon points="1844.9,1456.8 1841.2,1438.6 1838.6,1445.9 1831.0,1444.5" fill="#2353a9"/><polygon points="1866.0,1474.0 1873.4,1457.0 1867.1,1461.5 1861.7,1456.0" fill="#2353a9"/><polygon points="1899.7,1412.2 1888.7,1397.3 1889.4,1405.0 1881.9,1406.9" fill="#2353a9"/><polygon points="1928.0,1429.4 1911.7,1420.6 1915.6,1427.3 1909.6,1432.2" fill="#2353a9"/><polygon points="1945.3,1505.6 1948.1,1487.3 1943.1,1493.3 1936.4,1489.4" fill="#2353a9"/><polygon points="1961.0,1511.0 1977.3,1519.9 1973.4,1513.2 1979.3,1508.3" fill="#2353a9"/><polygon points="1988.1,1515.9 2006.7,1515.4 1999.9,1511.6 2002.6,1504.4" fill="#2353a9"/><polygon points="2012.8,1481.9 2031.1,1484.7 2025.1,1479.7 2029.0,1473.1" fill="#2353a9"/><polygon points="2038.2,1400.9 2052.7,1412.5 2050.0,1405.2 2056.8,1401.4" fill="#2353a9"/><polygon points="2064.5,1388.4 2082.8,1391.2 2076.9,1386.2 2080.8,1379.6" fill="#2353a9"/><polygon points="2089.4,1401.6 2107.5,1406.0 2101.9,1400.5 2106.4,1394.2" fill="#2353a9"/><polygon points="2114.5,1462.4 2131.5,1469.8 2127.0,1463.4 2132.5,1458.0" fill="#2353a9"/><polygon points="2147.4,1490.0 2158.9,1475.5 2151.7,1478.3 2147.9,1471.5" fill="#2353a9"/><polygon points="2173.2,1489.7 2180.6,1472.7 2174.3,1477.2 2168.8,1471.7" fill="#2353a9"/><polygon points="2195.8,1431.7 2207.3,1417.2 2200.1,1419.9 2196.3,1413.1" fill="#2353a9"/><polygon points="2226.6,1394.3 2227.7,1375.8 2223.3,1382.2 2216.3,1378.8" fill="#2353a9"/><polygon points="2249.2,1426.2 2258.0,1409.9 2251.3,1413.8 2246.4,1407.9" fill="#2353a9"/><polygon points="2275.8,1410.3 2281.7,1392.7 2275.8,1397.8 2269.9,1392.7" fill="#2353a9"/><polygon points="2300.9,1410.3 2306.8,1392.7 2300.9,1397.8 2295.0,1392.7" fill="#2353a9"/><polygon points="2327.6,1410.3 2333.5,1392.7 2327.6,1397.8 2321.7,1392.7" fill="#2353a9"/><polygon points="2355.1,1366.8 2356.2,1348.3 2351.8,1354.7 2344.8,1351.4" fill="#2353a9"/><polygon points="2381.7,1373.8 2379.6,1355.4 2376.4,1362.4 2368.9,1360.3" fill="#2353a9"/><polygon points="2403.5,1410.3 2407.9,1392.3 2402.4,1397.8 2396.1,1393.3" fill="#2353a9"/><polygon points="2429.4,1426.3 2435.3,1408.8 2429.4,1413.8 2423.5,1408.8" fill="#2353a9"/><polygon points="2454.5,1442.4 2460.3,1424.8 2454.5,1429.8 2448.6,1424.8" fill="#2353a9"/><polygon points="2479.5,1442.4 2485.4,1424.8 2479.5,1429.8 2473.6,1424.8" fill="#2353a9"/><polygon points="2514.0,1406.3 2503.0,1391.4 2503.7,1399.1 2496.2,1401.0" fill="#2353a9"/><polygon points="2540.6,1400.0 2524.3,1391.1 2528.2,1397.8 2522.3,1402.7" fill="#2353a9"/><polygon points="2565.6,1450.2 2549.3,1441.3 2553.3,1448.0 2547.3,1452.9" fill="#2353a9"/><polygon points="2590.2,1467.8 2575.7,1456.3 2578.5,1463.5 2571.7,1467.3" fill="#2353a9"/><polygon points="2589.9,1469.3 2577.7,1455.4 2579.1,1463.1 2571.8,1465.6" fill="#2353a9"/><polygon points="2615.0,1469.3 2602.7,1455.4 2604.1,1463.1 2596.8,1465.6" fill="#2353a9"/><polygon points="2641.1,1462.9 2622.8,1460.2 2628.8,1465.1 2624.8,1471.8" fill="#2353a9"/><polygon points="2668.0,1418.8 2649.9,1414.4 2655.5,1419.9 2651.0,1426.2" fill="#2353a9"/><polygon points="2693.0,1418.7 2675.5,1412.8 2680.5,1418.7 2675.5,1424.6" fill="#2353a9"/><polygon points="2708.6,1470.8 2702.7,1488.3 2708.6,1483.3 2714.5,1488.3" fill="#2353a9"/><polygon points="2736.9,1470.9 2728.1,1487.2 2734.7,1483.3 2739.7,1489.2" fill="#2353a9"/><polygon points="2765.1,1456.3 2751.2,1468.6 2758.8,1467.2 2761.4,1474.5" fill="#2353a9"/><polygon points="2793.1,1457.3 2777.3,1467.0 2785.1,1466.9 2786.3,1474.5" fill="#2353a9"/><polygon points="2810.4,1391.5 2807.7,1409.8 2812.6,1403.8 2819.3,1407.7" fill="#2353a9"/><polygon points="2831.0,1392.9 2837.8,1410.1 2839.1,1402.5 2846.8,1402.5" fill="#2353a9"/><polygon points="2854.3,1399.2 2871.9,1405.1 2866.8,1399.2 2871.9,1393.3" fill="#2353a9"/><polygon points="2879.5,1370.7 2897.8,1373.5 2891.8,1368.6 2895.8,1361.9" fill="#2353a9"/><polygon points="2904.5,1386.8 2922.9,1389.5 2916.9,1384.6 2920.8,1377.9" fill="#2353a9"/><polygon points="2931.2,1402.5 2949.6,1405.2 2943.6,1400.3 2947.5,1393.6" fill="#2353a9"/><polygon points="2960.9,1376.9 2964.6,1395.1 2967.2,1387.8 2974.8,1389.2" fill="#2353a9"/><polygon points="2984.0,1394.3 2992.2,1410.9 2992.8,1403.1 3000.5,1402.5" fill="#2353a9"/><polygon points="3006.2,1416.8 3023.8,1422.7 3018.8,1416.8 3023.8,1410.9" fill="#2353a9"/><polygon points="3051.3,1413.6 3032.8,1414.1 3039.6,1417.9 3036.8,1425.1" fill="#2353a9"/><polygon points="3076.4,1413.6 3057.9,1414.1 3064.6,1417.9 3061.9,1425.1" fill="#2353a9"/><polygon points="3085.2,1413.6 3099.7,1425.1 3097.0,1417.9 3103.8,1414.1" fill="#2353a9"/><polygon points="3119.2,1385.5 3125.1,1367.9 3119.2,1372.9 3113.3,1367.9" fill="#2353a9"/><polygon points="3135.3,1388.3 3153.9,1387.8 3147.1,1384.0 3149.8,1376.7" fill="#2353a9"/><polygon points="3166.2,1441.1 3180.1,1428.8 3172.5,1430.2 3169.9,1422.9" fill="#2353a9"/><polygon points="3186.5,1385.1 3204.1,1391.0 3199.0,1385.1 3204.1,1379.2" fill="#2353a9"/><polygon points="3211.6,1368.3 3228.6,1375.7 3224.1,1369.4 3229.6,1363.9" fill="#2353a9"/><polygon points="3238.3,1352.6 3255.3,1360.0 3250.8,1353.7 3256.3,1348.2" fill="#2353a9"/><polygon points="3263.3,1350.2 3281.3,1354.6 3275.8,1349.1 3280.3,1342.8" fill="#2353a9"/><polygon points="3288.4,1356.5 3305.4,1363.9 3300.9,1357.6 3306.4,1352.2" fill="#2353a9"/><polygon points="3332.8,1364.3 3314.6,1368.0 3321.9,1370.6 3320.5,1378.2" fill="#2353a9"/><polygon points="1818.0,1374.8 1825.0,1388.8 1818.0,1384.8" fill="#2353a9"/><rect x="1869.1" y="628.4" width="2.2" height="930.1" fill="#0a0a0a"/><path d="M1883.5,1539.7 H1900.5 M1895.5,1534.7 L1901.3,1539.7 L1895.5,1544.7" fill="none" stroke="#1a1a1a" stroke-width="1.9"/></svg>
<div class="t" style="left:1779.8px;top:651.0px;font-size:17px;color:#222;letter-spacing:0.000px;">0 C</div>
<div class="t" style="left:1764.7px;top:714.1px;font-size:17px;color:#222;letter-spacing:0.000px;">-10 C</div>
<div class="t" style="left:1764.7px;top:776.8px;font-size:17px;color:#222;letter-spacing:0.000px;">-20 C</div>
<div class="t" style="left:1762.8px;top:870.4px;font-size:17px;color:#222;letter-spacing:0.000px;">100%</div>
<div class="t" style="left:1772.3px;top:913.4px;font-size:17px;color:#222;letter-spacing:0.000px;">75%</div>
<div class="t" style="left:1772.3px;top:957.4px;font-size:17px;color:#222;letter-spacing:0.000px;">50%</div>
<div class="t" style="left:1772.3px;top:1001.2px;font-size:17px;color:#222;letter-spacing:0.000px;">25%</div>
<div class="t" style="left:1781.7px;top:1044.3px;font-size:17px;color:#222;letter-spacing:0.000px;">0%</div>
<div class="t" style="left:1782.7px;top:1098.3px;font-size:17px;color:#222;letter-spacing:0.000px;">0.8</div>
<div class="t" style="left:1782.7px;top:1142.4px;font-size:17px;color:#222;letter-spacing:0.000px;">0.6</div>
<div class="t" style="left:1782.7px;top:1186.1px;font-size:17px;color:#222;letter-spacing:0.000px;">0.4</div>
<div class="t" style="left:1782.7px;top:1229.8px;font-size:17px;color:#222;letter-spacing:0.000px;">0.2</div>
<div class="t" style="left:1782.7px;top:1273.2px;font-size:17px;color:#222;letter-spacing:0.000px;">0.0</div>
<div class="t" style="left:1787.4px;top:1345.0px;font-size:17px;color:#222;letter-spacing:0.000px;">10</div>
<div class="t" style="left:1796.8px;top:1425.1px;font-size:17px;color:#222;letter-spacing:0.000px;">5</div>
<div class="t" style="left:1796.8px;top:1504.2px;font-size:17px;color:#222;letter-spacing:0.000px;">0</div>
<div class="t" style="left:3353.0px;top:870.3px;font-size:17.1px;color:#222;">1030.00</div>
<div class="t" style="left:3353.0px;top:913.3px;font-size:17.1px;color:#222;">1024.00</div>
<div class="t" style="left:3353.0px;top:957.3px;font-size:17.1px;color:#222;">1017.00</div>
<div class="t" style="left:3353.0px;top:1001.1px;font-size:17.1px;color:#222;">1011.00</div>
<div class="t" style="left:3353.0px;top:1044.2px;font-size:17.1px;color:#222;">1004.00</div>
<div class="abs" style="left:2654.5px;top:841.4px;width:34.6px;height:17.2px;background:#62a04f"></div>
<div class="t" style="left:2698.5px;top:837.3px;font-size:24px;color:#222;letter-spacing:-0.026px;">Dew Point (°)</div>
<div class="abs" style="left:2875.8px;top:841.4px;width:34.6px;height:17.2px;background:#a45ba6"></div>
<div class="t" style="left:2919.9px;top:837.3px;font-size:24px;color:#222;letter-spacing:-0.318px;">Feels Like (°C)</div>
<div class="abs" style="left:3110.9px;top:841.4px;width:34.6px;height:17.2px;background:#cc3335"></div>
<div class="t" style="left:3155.3px;top:837.3px;font-size:24px;color:#222;letter-spacing:-0.007px;">Temperature (°C)</div>
<div class="abs" style="left:2049.8px;top:1071.9px;width:34.6px;height:17.2px;background:#a0a0a0"></div>
<div class="t" style="left:2093.9px;top:1067.8px;font-size:24px;color:#222;letter-spacing:-0.433px;">Cloud Cover (%)</div>
<div class="abs" style="left:2302.5px;top:1071.9px;width:34.6px;height:17.2px;background:#4fa3d9"></div>
<div class="t" style="left:2346.6px;top:1067.8px;font-size:24px;color:#222;letter-spacing:-0.193px;">Chance of Precip. (%)</div>
<div class="abs" style="left:2614.4px;top:1071.9px;width:34.6px;height:17.2px;background:#c68fc9;box-sizing:border-box;border:2px solid #4fa3d9"></div>
<div class="t" style="left:2658.5px;top:1067.8px;font-size:24px;color:#222;letter-spacing:-0.211px;">Chance of Snow (%)</div>
<div class="abs" style="left:2912.2px;top:1071.9px;width:34.6px;height:17.2px;background:#8ec13f"></div>
<div class="t" style="left:2956.3px;top:1067.8px;font-size:24px;color:#222;letter-spacing:-0.154px;">Humidity (%)</div>
<div class="abs" style="left:3129.2px;top:1071.9px;width:34.6px;height:17.2px;background:#1b1b21"></div>
<div class="t" style="left:3173.6px;top:1067.8px;font-size:24px;color:#222;letter-spacing:-0.144px;">Pressure. (hPa)</div>
<div class="abs" style="left:2635.8px;top:1302.9px;width:34.6px;height:17.2px;background:#3d8fc6"></div>
<div class="t" style="left:2679.5px;top:1298.8px;font-size:24px;color:#222;letter-spacing:0.435px;">Precip. Accum. Total (mm)</div>
<div class="abs" style="left:3007.4px;top:1302.9px;width:34.6px;height:17.2px;background:#3f7a25"></div>
<div class="t" style="left:3050.8px;top:1298.8px;font-size:24px;color:#222;letter-spacing:0.178px;">Hourly Liquid Precip. (mm)</div>
<div class="abs" style="left:3167.6px;top:1532.9px;width:34.6px;height:17.2px;background:#2353a9"></div>
<div class="t" style="left:3212.0px;top:1528.8px;font-size:24px;color:#222;letter-spacing:-0.325px;">Wind Speed</div>
<!-- twn -->
<div class="twn"><div class="sheen"></div>
<div class="t" style="left:40.0px;top:36.6px;font-size:25.2px;font-weight:bold;color:#fff;letter-spacing:1.251px;-webkit-text-stroke:.35px #fff">Mont-Tremblant-Village, QC</div>
<div class="abs" style="left:35.3px;top:71.5px;width:568.7px;height:63.2px;background:#fff"></div>
<div class="sf" style="left:156.4px;top:85.1px;font-size:38.49px">2.9.26 @ 7:59 A.M.</div>
<div class="card" style="left:40px;top:192.3px;width:569.4px;height:186.9px;border-radius:13px;background:linear-gradient(100deg,#425974 0%,#3f5672 45%,#3a5170 100%)"></div>
<svg class="abs" style="left:90px;top:232.7px;overflow:visible" width="95" height="75" viewBox="90 1212 95 75"><polygon points="122.2,1219.5 118.8,1228.3 125.6,1228.3" fill="#f0c862"/><polygon points="142.4,1227.8 133.7,1231.7 138.5,1236.5" fill="#f0c862"/><polygon points="150.7,1248.0 141.9,1244.6 141.9,1251.4" fill="#f0c862"/><polygon points="142.4,1268.2 138.5,1259.5 133.7,1264.3" fill="#f0c862"/><polygon points="122.2,1276.5 125.6,1267.7 118.8,1267.7" fill="#f0c862"/><polygon points="102.0,1268.2 110.7,1264.3 105.9,1259.5" fill="#f0c862"/><polygon points="93.7,1248.0 102.5,1251.4 102.5,1244.6" fill="#f0c862"/><polygon points="102.0,1227.8 105.9,1236.5 110.7,1231.7" fill="#f0c862"/><circle cx="122.2" cy="1248" r="18" fill="none" stroke="#f0c862" stroke-width="1.4"/><circle cx="122.2" cy="1248" r="13.6" fill="#f2c35c"/><circle cx="124.7" cy="1250" r="11" fill="#f6cf6e" opacity=".55"/><circle cx="120.3" cy="1242.8" r="4" fill="#fbe8ae"/><g fill="#3f5672"><circle cx="139.5" cy="1253.5" r="13.2"/><circle cx="152" cy="1248" r="11.5"/><circle cx="131" cy="1262" r="9"/></g><ellipse cx="144" cy="1267.2" rx="29" ry="5.6" fill="#dadada"/><g fill="#e2e2e2"><circle cx="128" cy="1262" r="7.5"/><circle cx="163" cy="1258.5" r="9"/><rect x="125" y="1258" width="42" height="11"/></g><g fill="#fff"><circle cx="139.5" cy="1253.5" r="11.2"/><circle cx="152" cy="1248" r="9.6"/><circle cx="161.5" cy="1257" r="8.3"/><circle cx="148" cy="1258" r="8"/></g><path d="M150,1262.5 C154,1260 156,1256.5 155.5,1252" fill="none" stroke="#e1e1e1" stroke-width="3"/></svg>
<svg class="abs" style="left:180px;top:220.7px" width="230" height="95" viewBox="180 1200 230 95"><rect x="188.9" y="1242.8" width="40.9" height="6.6" fill="#fff"/><path d="M248.2,1236.4 A21.6,21.6 0 0 1 291.1,1233.4 C291.1,1246.7 281.4,1256.0 270.6,1266.8 L254.9,1281.1 L294.6,1281.1" fill="none" stroke="#fff" stroke-width="6.6" stroke-linejoin="miter"/><path d="M307.1,1236.4 A21.6,21.6 0 0 1 350.0,1233.4 C350.0,1246.7 340.3,1256.0 329.5,1266.8 L313.8,1281.1 L353.5,1281.1" fill="none" stroke="#fff" stroke-width="6.6" stroke-linejoin="miter"/><circle cx="368.4" cy="1217.8" r="4.85" fill="none" stroke="#fff" stroke-width="2.25"/><path d="M395.3,1218.9 A9.3,8.9 0 1 0 395.3,1230.3" fill="none" stroke="#fff" stroke-width="2.35"/></svg>
<div class="t" style="left:431.5px;top:226.4px;font-size:20.2px;color:#fff;letter-spacing:0.612px;-webkit-text-stroke:.25px #fff">Partly cloudy</div>
<div class="t" style="left:431.5px;top:253.1px;font-size:19.2px;color:#fff;letter-spacing:0.607px;">Feels -26</div>
<div class="t" style="left:431.5px;top:279.9px;font-size:18px;color:#fff;letter-spacing:0.799px;">H: -9°</div>
<div class="t" style="left:499.5px;top:279.9px;font-size:18px;color:#fff;letter-spacing:-0.175px;">L: -18°</div>
<div class="t" style="left:46.3px;top:488.3px;font-size:22.6px;font-weight:bold;color:#fff;letter-spacing:0.391px;-webkit-text-stroke:.35px #fff">Today’s Conditions</div>
<div class="card" style="left:46.2px;top:525.5px;width:184.3px;height:184.2px;background:#415872"></div>
<div class="card" style="left:236.3px;top:525.5px;width:184.3px;height:184.2px;background:#3f5670"></div>
<div class="card" style="left:426.5px;top:525.5px;width:184.3px;height:184.2px;background:#37506f"></div>
<div class="card" style="left:616.5px;top:525.5px;width:184.3px;height:184.2px;background:#33496a"></div>
<div class="card" style="left:806.7px;top:525.5px;width:184.3px;height:184.2px;background:#2f4769"></div>
<div class="card" style="left:997.0px;top:525.5px;width:184.3px;height:184.2px;background:#2d4467"></div>
<div class="t" style="left:57.4px;top:539.3px;font-size:16.4px;color:#fff;letter-spacing:0.606px;">February 9, 2026</div>
<div class="t" style="left:57.4px;top:664.0px;font-size:12.6px;color:#fff;letter-spacing:0.783px;">Sunrise</div>
<div class="t" style="left:173.5px;top:664.0px;font-size:12.6px;color:#fff;letter-spacing:1.062px;">Sunset</div>
<div class="t" style="left:57.6px;top:681.8px;font-size:17.6px;font-weight:bold;color:#fff;letter-spacing:0.167px;">7:10AM</div>
<div class="t" style="left:155.7px;top:681.8px;font-size:17.6px;font-weight:bold;color:#fff;letter-spacing:0.412px;">5:14PM</div>
<svg class="abs" style="left:46px;top:580.7px" width="185" height="80" viewBox="46 1560 185 80"><circle cx="98.2" cy="1587.4" r="0.85" fill="#9fb0c2"/><circle cx="103.4" cy="1580.6" r="0.85" fill="#9fb0c2"/><circle cx="109.9" cy="1574.8" r="0.85" fill="#9fb0c2"/><circle cx="117.3" cy="1570.2" r="0.85" fill="#9fb0c2"/><circle cx="125.6" cy="1567.0" r="0.85" fill="#9fb0c2"/><circle cx="134.3" cy="1565.3" r="0.85" fill="#9fb0c2"/><circle cx="143.1" cy="1565.3" r="0.85" fill="#9fb0c2"/><circle cx="151.8" cy="1566.7" r="0.85" fill="#9fb0c2"/><circle cx="160.1" cy="1569.7" r="0.85" fill="#9fb0c2"/><circle cx="167.7" cy="1574.2" r="0.85" fill="#9fb0c2"/><circle cx="174.3" cy="1579.8" r="0.85" fill="#9fb0c2"/><circle cx="179.7" cy="1586.6" r="0.85" fill="#9fb0c2"/><circle cx="183.6" cy="1594.2" r="0.85" fill="#9fb0c2"/><circle cx="186.1" cy="1602.3" r="0.85" fill="#9fb0c2"/><circle cx="186.9" cy="1610.8" r="0.85" fill="#9fb0c2"/><polygon points="89,1604.5 106.5,1602.3 132.4,1611.2 88.5,1611.2" fill="rgba(190,208,214,.5)"/><circle cx="94.2" cy="1595.7" r="14.4" fill="rgba(170,165,140,.72)"/><circle cx="94.2" cy="1595.7" r="7.1" fill="#fde681"/><rect x="79" y="1611.1" width="120" height="5" rx="2.5" fill="#a9d6dd"/><path d="M65.1,1597.9 L69.6,1603.6 H66.8 V1611.9 H63.4 V1603.6 H60.6Z" fill="#fbe46c"/><path d="M211.4,1611.7 L215.9,1606 H213.1 V1597.6 H209.7 V1606 H206.9Z" fill="#f5aa48"/></svg>
<div class="t" style="left:247.4px;top:539.3px;font-size:16.4px;color:#fff;letter-spacing:0.909px;">Wind</div>
<div class="t" style="left:248.3px;top:559.2px;font-size:25.5px;font-weight:bold;color:#fff;">5</div>
<div class="t" style="left:269.4px;top:565.4px;font-size:18.2px;font-weight:bold;color:#fff;letter-spacing:0.505px;">km/h</div>
<div class="t" style="left:322.8px;top:567.4px;font-size:15.2px;color:#a9d6dd;letter-spacing:1.154px;">W</div>
<div class="t" style="left:247.4px;top:682.5px;font-size:16.8px;color:#fff;letter-spacing:0.597px;-webkit-text-stroke:.3px #fff">Gust: 7 km/h</div>
<svg class="abs" style="left:236px;top:592.7px" width="185" height="90" viewBox="236 1572 185 90"><rect x="324.1" y="1634" width="9.8" height="15.5" fill="#4a3425"/><g fill="#6fb536"><path d="M326.90000000000003,1612.6 Q329.1,1608.4 331.3,1612.6 L351.20000000000005,1627.2 Q355.00000000000006,1632.2 348.90000000000003,1635.6999999999998 Q329.1,1639.1999999999998 309.3,1635.6999999999998 Q303.2,1632.2 307.0,1627.2Z"/></g><g fill="#5a9e2e"><path d="M319.314,1621.385 L307.0,1627.2 Q303.2,1632.2 309.3,1635.6999999999998 Q316.285,1637.3999999999999 322.11,1637.8 Q310.46000000000004,1631.7 319.314,1621.385Z"/></g><g fill="#6fb536"><path d="M326.90000000000003,1597.6 Q329.1,1593.4 331.3,1597.6 L349.1,1610.5 Q352.90000000000003,1615.5 346.8,1619.1 Q329.1,1622.6 311.40000000000003,1619.1 Q305.3,1615.5 309.1,1610.5Z"/></g><g fill="#5a9e2e"><path d="M320.196,1605.45 L309.1,1610.5 Q305.3,1615.5 311.40000000000003,1619.1 Q317.44,1620.8 322.74,1621.2 Q312.14000000000004,1615 320.196,1605.45Z"/></g><g fill="#6fb536"><path d="M326.90000000000003,1579.1999999999998 Q329.1,1575.0 331.3,1579.1999999999998 L343.90000000000003,1593.9 Q347.70000000000005,1598.9 341.6,1602.3999999999999 Q329.1,1605.8999999999999 316.6,1602.3999999999999 Q310.5,1598.9 314.3,1593.9Z"/></g><g fill="#5a9e2e"><path d="M322.38,1588.04 L314.3,1593.9 Q310.5,1598.9 316.6,1602.3999999999999 Q320.3,1604.1 324.3,1604.5 Q316.3,1598.4 322.38,1588.04Z"/></g><path d="M273.2,1651.5 Q275,1649.2 290,1649.6 Q310,1648.8 330,1649.6 Q360,1648.6 382,1649.4 Q384.6,1651 384.4,1654.2 H273.2Z" fill="#a9a9a9"/><g stroke="#d9974a" stroke-width="1.1" fill="none"><path d="M287.5,1649 V1635.5"/><path d="M287.5,1647 L283.5,1643 M287.5,1647 L291.5,1643 M287.5,1643.5 L284.0,1639.5 M287.5,1643.5 L291.0,1639.5 M287.5,1640 L285.0,1637 M287.5,1640 L290.0,1637"/></g><g stroke="#d9974a" stroke-width="1.1" fill="none"><path d="M370,1649 V1635.5"/><path d="M370,1647 L366,1643 M370,1647 L374,1643 M370,1643.5 L366.5,1639.5 M370,1643.5 L373.5,1639.5 M370,1640 L367.5,1637 M370,1640 L372.5,1637"/></g></svg>
<div class="t" style="left:437.9px;top:539.3px;font-size:16.4px;color:#fff;letter-spacing:0.472px;">Pressure</div>
<div class="t" style="left:438.3px;top:559.2px;font-size:25.5px;font-weight:bold;color:#fff;letter-spacing:0.277px;">102.4</div>
<div class="t" style="left:520.0px;top:565.4px;font-size:18.2px;font-weight:bold;color:#fff;letter-spacing:-1.161px;">kPa</div>
<svg class="abs" style="left:508px;top:561.7px" width="12" height="22" viewBox="508 1541 12 22"><path d="M513.9,1560.6 V1543.6 M510.3,1547.6 L513.9,1543.3 L517.5,1547.6" fill="none" stroke="#dfe6ee" stroke-width="1.15"/></svg>
<div class="t" style="left:447.3px;top:684.0px;font-size:12.2px;color:#fff;letter-spacing:0.140px;-webkit-text-stroke:.3px #fff">Low</div>
<div class="t" style="left:565.0px;top:684.0px;font-size:12.2px;color:#fff;letter-spacing:0.652px;-webkit-text-stroke:.3px #fff">High</div>
<svg class="abs" style="left:440px;top:593.7px" width="160" height="85" viewBox="440 1573 160 85"><g transform="translate(0 1649.2) scale(1.008 .972) translate(-4.121 -1649.2)"><path d="M447.7,1649.2 A71.5,71.5 0 0 1 470.4,1596.9 L475.1,1602.0 A64.6,64.6 0 0 0 454.6,1649.2Z" fill="#9db54b"/><path d="M470.4,1596.9 A71.5,71.5 0 0 1 568.0,1596.9 L563.3,1602.0 A64.6,64.6 0 0 0 475.1,1602.0Z" fill="#f8d350"/><path d="M568.0,1596.9 A71.5,71.5 0 0 1 590.7,1649.2 L583.8,1649.2 A64.6,64.6 0 0 0 563.3,1602.0Z" fill="#d9632f"/><path d="M454.6,1649.2 A64.6,64.6 0 0 1 583.8,1649.2Z" fill="#a9d2de"/><clipPath id="gf"><path d="M454.6,1649.2 A64.6,64.6 0 0 1 583.8,1649.2Z"/></clipPath><g clip-path="url(#gf)"><ellipse cx="530" cy="1649.2" rx="54.8" ry="63.5" fill="#e4eef2"/><rect x="530" y="1573" width="60" height="80" fill="#e4eef2"/></g><rect x="461.8" y="1635.3" width="5.4" height="11.5" rx="2.7" fill="#6b9cb6" transform="rotate(-81.5 464.5 1641.0)"/><circle cx="467.2" cy="1630.3" r="2.5" fill="#6b9cb6"/><circle cx="472.8" cy="1619.1" r="2.5" fill="#6b9cb6"/><rect x="478.8" y="1603.0" width="5.4" height="11.5" rx="2.7" fill="#6b9cb6" transform="rotate(-43.0 481.5 1608.8)"/><circle cx="492.4" cy="1600.8" r="2.5" fill="#6b9cb6"/><circle cx="504.9" cy="1595.8" r="2.5" fill="#6b9cb6"/><rect x="516.5" y="1587.7" width="5.4" height="12.5" rx="2.7" fill="#6b9cb6" transform="rotate(0.0 519.2 1593.9)"/><circle cx="531.6" cy="1595.3" r="2.5" fill="#6b9cb6"/><circle cx="544.3" cy="1599.9" r="2.5" fill="#6b9cb6"/><rect x="553.5" y="1602.4" width="5.4" height="11.5" rx="2.7" fill="#6b9cb6" transform="rotate(42.0 556.2 1608.1)"/><circle cx="564.5" cy="1617.5" r="2.5" fill="#6b9cb6"/><circle cx="570.8" cy="1629.4" r="2.5" fill="#6b9cb6"/><rect x="571.1" y="1634.8" width="5.4" height="11.5" rx="2.7" fill="#6b9cb6" transform="rotate(81.0 573.8 1640.5)"/></g><polygon points="518.5,1643 531.5,1644.5 537.8,1609 532.6,1607.5" fill="#ee555a"/><polygon points="518.5,1643 531.5,1644.5 533.7,1632 523.8,1628.5" fill="#cf2a21"/><path d="M504,1649.5 A15.2,15.2 0 0 1 534.4,1649.5Z" fill="#f2b63a"/><path d="M515,1652 A10.5,11.5 0 0 1 534.4,1649.5 V1652Z" fill="#f7c44a"/><rect x="446.9" y="1648.6" width="145" height="6.9" fill="#f6b93d"/><rect x="515" y="1651.6" width="19.5" height="0.9" fill="#d9a23a"/></svg>
<div class="t" style="left:627.7px;top:539.3px;font-size:16.4px;color:#fff;letter-spacing:1.101px;">Humidity</div>
<div class="t" style="left:628.4px;top:559.2px;font-size:25.5px;font-weight:bold;color:#fff;letter-spacing:2.118px;">78</div>
<div class="t" style="left:663.8px;top:567.4px;font-size:15.2px;font-weight:bold;color:#fff;letter-spacing:-1.615px;">%</div>
<div class="t" style="left:734.2px;top:587.2px;font-size:10.6px;font-weight:bold;color:#f5e764;letter-spacing:0.865px;">Humid</div>
<div class="t" style="left:734.6px;top:631.1px;font-size:11.2px;color:#cfd8e3;letter-spacing:0.736px;-webkit-text-stroke:.25px #cfd8e3">Moderate</div>
<div class="t" style="left:734.6px;top:673.5px;font-size:11.2px;color:#cfd8e3;letter-spacing:0.161px;-webkit-text-stroke:.25px #cfd8e3">Dry</div>
<svg class="abs" style="left:616px;top:586.7px" width="185" height="100" viewBox="616 1566 185 100"><defs><clipPath id="dropc"><path id="dropp" d="M673.6,1571 C681,1587 704.6,1608 704.6,1630 A31,31 0 0 1 642.6,1630 C642.6,1608 666.2,1587 673.6,1571Z"/></clipPath></defs><path d="M673.6,1571 C681,1587 704.6,1608 704.6,1630 A31,31 0 0 1 642.6,1630 C642.6,1608 666.2,1587 673.6,1571Z" fill="#e8ebf3"/><g clip-path="url(#dropc)"><rect x="640" y="1589.8" width="70" height="80" fill="#5fb6e7"/><path d="M640,1589.8 H656 C646,1625 660,1652 690,1659 L680,1670 H640Z" fill="#4ba4da"/></g><path d="M673.6,1571 C681,1587 704.6,1608 704.6,1630 A31,31 0 0 1 642.6,1630 C642.6,1608 666.2,1587 673.6,1571Z" fill="none" stroke="#eef1f6" stroke-width="1.1"/><path d="M678,1593.5 L693.5,1620.5" stroke="#fff" stroke-width="4.4" stroke-linecap="round"/><circle cx="674.8" cy="1585.6" r="2.1" fill="#fff"/><rect x="718.6" y="1570.5" width="10.3" height="3.4" rx="1.7" fill="#7c8a9b"/><rect x="718.6" y="1579.1" width="10.3" height="3.4" rx="1.7" fill="#7c8a9b"/><rect x="718.6" y="1587.7" width="10.3" height="3.4" rx="1.7" fill="#fff"/><rect x="718.6" y="1596.2" width="10.3" height="3.4" rx="1.7" fill="#fff"/><rect x="718.6" y="1604.8" width="10.3" height="3.4" rx="1.7" fill="#fff"/><rect x="718.6" y="1613.4" width="10.3" height="3.4" rx="1.7" fill="#fff"/><rect x="718.6" y="1622.0" width="10.3" height="3.4" rx="1.7" fill="#fff"/><rect x="718.6" y="1630.6" width="10.3" height="3.4" rx="1.7" fill="#fff"/><rect x="718.6" y="1639.1" width="10.3" height="3.4" rx="1.7" fill="#fff"/><rect x="718.6" y="1647.7" width="10.3" height="3.4" rx="1.7" fill="#fff"/><rect x="718.6" y="1656.3" width="10.3" height="3.4" rx="1.7" fill="#fff"/></svg>
<div class="t" style="left:818.1px;top:539.3px;font-size:16.4px;color:#fff;letter-spacing:0.636px;">Visibility</div>
<div class="t" style="left:818.1px;top:559.2px;font-size:25.5px;font-weight:bold;color:#fff;letter-spacing:1.468px;">30</div>
<div class="t" style="left:855.9px;top:565.4px;font-size:18.2px;font-weight:bold;color:#fff;letter-spacing:-0.252px;">km</div>
<svg class="abs" style="left:806px;top:600.7px" width="185" height="70" viewBox="806 1580 185 70"><defs><pattern id="hat" width="6.2" height="6.2" patternUnits="userSpaceOnUse" patternTransform="rotate(-48)"><rect width="6.2" height="6.2" fill="#2f5d9f"/><rect width="2.5" height="6.2" fill="#86b0e0"/></pattern></defs><polygon points="852,1609.5 975.7,1584.2 975.7,1607.2 858,1613.2" fill="url(#hat)"/><polygon points="858,1613.2 975.7,1607.2 975.7,1641.9 853,1620" fill="#3a70ba"/><path d="M820.6,1614.5 Q840.5,1592.5 860.9,1614.5 Q840.5,1636.5 820.6,1614.5Z" fill="#fff"/><circle cx="841.5" cy="1614.3" r="7.2" fill="#2f6fd8"/><circle cx="841.5" cy="1614.3" r="3.6" fill="#1c2b4d"/><circle cx="842.8" cy="1612.8" r="0.9" fill="#fff"/></svg>
<div class="t" style="left:1008.0px;top:539.3px;font-size:16.4px;color:#fff;letter-spacing:0.809px;">Ceiling</div>
<svg class="abs" style="left:997px;top:525.5px" width="184.3" height="184.2" viewBox="997 1504.8 184.3 184.2"><defs><clipPath id="cc6"><rect x="997" y="1504.8" width="184.3" height="184.2" rx="9.5"/></clipPath><clipPath id="earth"><circle cx="1088.8" cy="1742.4" r="86.6"/></clipPath></defs><g clip-path="url(#cc6)"><rect x="1086.2" y="1508.4" width="5.7" height="2.5" fill="#e9edf3"/><rect x="1086.2" y="1514.2" width="5.7" height="2.5" fill="#e9edf3"/><rect x="1086.2" y="1520.0" width="5.7" height="2.5" fill="#e9edf3"/><rect x="1086.2" y="1525.9" width="5.7" height="2.5" fill="#e9edf3"/><rect x="1086.2" y="1531.7" width="5.7" height="2.5" fill="#e9edf3"/><rect x="1086.2" y="1537.5" width="5.7" height="2.5" fill="#e9edf3"/><rect x="1086.2" y="1543.3" width="5.7" height="2.5" fill="#e9edf3"/><rect x="1086.2" y="1549.1" width="5.7" height="2.5" fill="#e9edf3"/><rect x="1086.2" y="1555.0" width="5.7" height="2.5" fill="#e9edf3"/><rect x="1086.2" y="1560.8" width="5.7" height="2.5" fill="#e9edf3"/><rect x="1086.2" y="1566.6" width="5.7" height="2.5" fill="#e9edf3"/><rect x="1086.2" y="1572.4" width="5.7" height="2.5" fill="#e9edf3"/><rect x="1086.2" y="1578.2" width="5.7" height="2.5" fill="#e9edf3"/><rect x="1086.2" y="1584.1" width="5.7" height="2.5" fill="#e9edf3"/><rect x="1086.2" y="1589.9" width="5.7" height="2.5" fill="#e9edf3"/><rect x="1086.2" y="1595.7" width="5.7" height="2.5" fill="#e9edf3"/><rect x="1086.2" y="1601.5" width="5.7" height="2.5" fill="#e9edf3"/><rect x="1086.2" y="1607.3" width="5.7" height="2.5" fill="#e9edf3"/><rect x="1086.2" y="1613.2" width="5.7" height="2.5" fill="#e9edf3"/><rect x="1086.2" y="1619.0" width="5.7" height="2.5" fill="#e9edf3"/><rect x="1086.2" y="1624.8" width="5.7" height="2.5" fill="#e9edf3"/><rect x="1086.2" y="1630.6" width="5.7" height="2.5" fill="#e9edf3"/><rect x="1086.2" y="1636.4" width="5.7" height="2.5" fill="#e9edf3"/><rect x="1086.2" y="1642.3" width="5.7" height="2.5" fill="#e9edf3"/><rect x="1086.2" y="1648.1" width="5.7" height="2.5" fill="#e9edf3"/><rect x="1086.2" y="1653.9" width="5.7" height="2.5" fill="#e9edf3"/><circle cx="1088.8" cy="1742.4" r="87.6" fill="#f2f5f8"/><circle cx="1088.8" cy="1742.4" r="86" fill="#3d8ff0"/><g clip-path="url(#earth)"><path d="M1015,1692 L1040,1668 L1072,1658 L1080,1663 L1062,1672 L1048,1678 L1056,1684 L1040,1690Z" fill="#8fd97b"/><path d="M1040,1668 L1072,1658 L1080,1663 L1062,1672 L1048,1678 L1038,1674Z" fill="#5fae60"/><path d="M1078,1690 L1086,1678 L1096,1675 L1104,1681 L1114,1679 L1120,1684 L1132,1690Z" fill="#8fd97b"/><path d="M1118,1668 L1128,1664 L1140,1672 L1150,1684 L1160,1690 L1138,1690 L1130,1682 L1122,1678Z" fill="#8fd97b"/></g><path d="M1029,1556.9 C1024,1551.5 1020.5,1549.3 1017.5,1549.3 A7.6,7.6 0 0 0 1017.5,1564.5 C1020.5,1564.5 1024,1562.3 1029,1556.9 C1034,1551.5 1037.5,1549.3 1040.5,1549.3 A7.6,7.6 0 0 1 1040.5,1564.5 C1037.5,1564.5 1034,1562.3 1029,1556.9Z" fill="none" stroke="#fff" stroke-width="3.5"/></g></svg>
</div>
<!-- tables -->
<div class="tb" style="left:630px;top:11.4px;width:1088.5px;height:729.45px">
<div class="th" style="height:26.1px">
<span style="left:10.7px;top:2.5px">Time</span>
<span style="left:98.8px;top:2.5px">Conditions</span>
<span style="left:244.4px;top:2.5px">Temp.</span>
<span style="left:321.0px;top:2.5px">Feels Like</span>
<span style="left:433.0px;top:2.5px">Precip</span>
<span style="left:512.6px;top:2.5px">Amount</span>
<span style="left:602.9px;top:2.5px">Cloud Cover</span>
<span style="left:731.6px;top:2.5px">Dew Point</span>
<span style="left:842.7px;top:2.5px">Humidity</span>
<span style="left:944.0px;top:2.5px">Wind</span>
<span style="left:1053.0px;top:2.5px">Pres</span>
</div>
<div class="tr" style="top:26.10px;height:46.89px">
<span style="left:10.7px">9 :00 am</span>
<svg class="ic" style="left:99.29999999999995px;top:4.6px" width="38.5" height="38.5"><use href="#i-pc"/></svg>
<span class="cd" style="left:149.8px">Partly Cl...</span>
<span style="left:244.4px">-20 °C</span>
<span style="left:321.0px">-20 °C</span>
<span class="lk" style="left:433.0px">2 %</span>
<span class="lk" style="left:512.6px">0 cm</span>
<span style="left:602.9px">59 %</span>
<span style="left:731.6px">-22 °C</span>
<span style="left:842.7px">81 %</span>
<span style="left:944.0px">3 km/h NNW</span>
<span style="left:1053.0px">1,028</span>
</div>
<div class="tr g" style="top:72.99px;height:46.89px">
<span style="left:10.7px">10 :00 am</span>
<svg class="ic" style="left:99.29999999999995px;top:4.6px" width="38.5" height="38.5"><use href="#i-pc"/></svg>
<span class="cd" style="left:149.8px">Partly Cl...</span>
<span style="left:244.4px">-17 °C</span>
<span style="left:321.0px">-17 °C</span>
<span class="lk" style="left:433.0px">1 %</span>
<span class="lk" style="left:512.6px">0 cm</span>
<span style="left:602.9px">53 %</span>
<span style="left:731.6px">-21 °C</span>
<span style="left:842.7px">72 %</span>
<span style="left:944.0px">4 km/h NW</span>
<span style="left:1053.0px">1,027</span>
</div>
<div class="tr" style="top:119.88px;height:46.89px">
<span style="left:10.7px">11 :00 am</span>
<svg class="ic" style="left:99.29999999999995px;top:4.6px" width="38.5" height="38.5"><use href="#i-pc"/></svg>
<span class="cd" style="left:149.8px">Partly Cl...</span>
<span style="left:244.4px">-15 °C</span>
<span style="left:321.0px">-19 °C</span>
<span class="lk" style="left:433.0px">1 %</span>
<span class="lk" style="left:512.6px">0 cm</span>
<span style="left:602.9px">50 %</span>
<span style="left:731.6px">-20 °C</span>
<span style="left:842.7px">63 %</span>
<span style="left:944.0px">6 km/h NW</span>
<span style="left:1053.0px">1,027</span>
</div>
<div class="tr g" style="top:166.77px;height:46.89px">
<span style="left:10.7px">12 :00 pm</span>
<svg class="ic" style="left:99.29999999999995px;top:4.6px" width="38.5" height="38.5"><use href="#i-pc"/></svg>
<span class="cd" style="left:149.8px">Partly Cl...</span>
<span style="left:244.4px">-12 °C</span>
<span style="left:321.0px">-16 °C</span>
<span class="lk" style="left:433.0px">1 %</span>
<span class="lk" style="left:512.6px">0 cm</span>
<span style="left:602.9px">35 %</span>
<span style="left:731.6px">-19 °C</span>
<span style="left:842.7px">55 %</span>
<span style="left:944.0px">7 km/h NW</span>
<span style="left:1053.0px">1,026</span>
</div>
<div class="tr" style="top:213.66px;height:46.89px">
<span style="left:10.7px">1 :00 pm</span>
<svg class="ic" style="left:99.29999999999995px;top:4.6px" width="38.5" height="38.5"><use href="#i-pc"/></svg>
<span class="cd" style="left:149.8px">Partly Cl...</span>
<span style="left:244.4px">-11 °C</span>
<span style="left:321.0px">-15 °C</span>
<span class="lk" style="left:433.0px">1 %</span>
<span class="lk" style="left:512.6px">0 cm</span>
<span style="left:602.9px">36 %</span>
<span style="left:731.6px">-19 °C</span>
<span style="left:842.7px">50 %</span>
<span style="left:944.0px">6 km/h WNW</span>
<span style="left:1053.0px">1,025</span>
</div>
<div class="tr g" style="top:260.55px;height:46.89px">
<span style="left:10.7px">2 :00 pm</span>
<svg class="ic" style="left:99.29999999999995px;top:4.6px" width="38.5" height="38.5"><use href="#i-pc"/></svg>
<span class="cd" style="left:149.8px">Partly Cl...</span>
<span style="left:244.4px">-10 °C</span>
<span style="left:321.0px">-13 °C</span>
<span class="lk" style="left:433.0px">1 %</span>
<span class="lk" style="left:512.6px">0 cm</span>
<span style="left:602.9px">48 %</span>
<span style="left:731.6px">-18 °C</span>
<span style="left:842.7px">49 %</span>
<span style="left:944.0px">6 km/h WNW</span>
<span style="left:1053.0px">1,024</span>
</div>
<div class="tr" style="top:307.44px;height:46.89px">
<span style="left:10.7px">3 :00 pm</span>
<svg class="ic" style="left:99.29999999999995px;top:4.6px" width="38.5" height="38.5"><use href="#i-mc"/></svg>
<span class="cd" style="left:149.8px">Mostly Cl...</span>
<span style="left:244.4px">-10 °C</span>
<span style="left:321.0px">-13 °C</span>
<span class="lk" style="left:433.0px">1 %</span>
<span class="lk" style="left:512.6px">0 cm</span>
<span style="left:602.9px">66 %</span>
<span style="left:731.6px">-18 °C</span>
<span style="left:842.7px">50 %</span>
<span style="left:944.0px">7 km/h WNW</span>
<span style="left:1053.0px">1,023</span>
</div>
<div class="tr g" style="top:354.33px;height:46.89px">
<span style="left:10.7px">4 :00 pm</span>
<svg class="ic" style="left:99.29999999999995px;top:4.6px" width="38.5" height="38.5"><use href="#i-mc"/></svg>
<span class="cd" style="left:149.8px">Mostly Cl...</span>
<span style="left:244.4px">-10 °C</span>
<span style="left:321.0px">-12 °C</span>
<span class="lk" style="left:433.0px">3 %</span>
<span class="lk" style="left:512.6px">0 cm</span>
<span style="left:602.9px">63 %</span>
<span style="left:731.6px">-17 °C</span>
<span style="left:842.7px">54 %</span>
<span style="left:944.0px">5 km/h WNW</span>
<span style="left:1053.0px">1,023</span>
</div>
<div class="tr" style="top:401.22px;height:46.89px">
<span style="left:10.7px">5 :00 pm</span>
<svg class="ic" style="left:99.29999999999995px;top:13.6px" width="38.5" height="20.8"><use href="#i-cl"/></svg>
<span class="cd" style="left:149.8px">Cloudy</span>
<span style="left:244.4px">-11 °C</span>
<span style="left:321.0px">-11 °C</span>
<span class="lk" style="left:433.0px">4 %</span>
<span class="lk" style="left:512.6px">0 cm</span>
<span style="left:602.9px">88 %</span>
<span style="left:731.6px">-17 °C</span>
<span style="left:842.7px">61 %</span>
<span style="left:944.0px">3 km/h WNW</span>
<span style="left:1053.0px">1,023</span>
</div>
<div class="tr g" style="top:448.11px;height:46.89px">
<span style="left:10.7px">6 :00 pm</span>
<svg class="ic" style="left:99.29999999999995px;top:13.6px" width="38.5" height="20.8"><use href="#i-cl"/></svg>
<span class="cd" style="left:149.8px">Cloudy</span>
<span style="left:244.4px">-12 °C</span>
<span style="left:321.0px">-12 °C</span>
<span class="lk" style="left:433.0px">5 %</span>
<span class="lk" style="left:512.6px">0 cm</span>
<span style="left:602.9px">89 %</span>
<span style="left:731.6px">-16 °C</span>
<span style="left:842.7px">68 %</span>
<span style="left:944.0px">2 km/h NW</span>
<span style="left:1053.0px">1,024</span>
</div>
<div class="tr" style="top:495.00px;height:46.89px">
<span style="left:10.7px">7 :00 pm</span>
<svg class="ic" style="left:99.29999999999995px;top:13.6px" width="38.5" height="20.8"><use href="#i-cl"/></svg>
<span class="cd" style="left:149.8px">Cloudy</span>
<span style="left:244.4px">-13 °C</span>
<span style="left:321.0px">-13 °C</span>
<span class="lk" style="left:433.0px">5 %</span>
<span class="lk" style="left:512.6px">0 cm</span>
<span style="left:602.9px">91 %</span>
<span style="left:731.6px">-17 °C</span>
<span style="left:842.7px">70 %</span>
<span style="left:944.0px">1 km/h NNW</span>
<span style="left:1053.0px">1,023</span>
</div>
<div class="tr g" style="top:541.89px;height:46.89px">
<span style="left:10.7px">8 :00 pm</span>
<svg class="ic" style="left:99.29999999999995px;top:13.6px" width="38.5" height="20.8"><use href="#i-cl"/></svg>
<span class="cd" style="left:149.8px">Cloudy</span>
<span style="left:244.4px">-13 °C</span>
<span style="left:321.0px">-13 °C</span>
<span class="lk" style="left:433.0px">6 %</span>
<span class="lk" style="left:512.6px">0 cm</span>
<span style="left:602.9px">81 %</span>
<span style="left:731.6px">-17 °C</span>
<span style="left:842.7px">74 %</span>
<span style="left:944.0px">1 km/h NNW</span>
<span style="left:1053.0px">1,023</span>
</div>
<div class="tr" style="top:588.78px;height:46.89px">
<span style="left:10.7px">9 :00 pm</span>
<svg class="ic" style="left:99.29999999999995px;top:13.6px" width="38.5" height="20.8"><use href="#i-cl"/></svg>
<span class="cd" style="left:149.8px">Cloudy</span>
<span style="left:244.4px">-14 °C</span>
<span style="left:321.0px">-14 °C</span>
<span class="lk" style="left:433.0px">10 %</span>
<span class="lk" style="left:512.6px">0 cm</span>
<span style="left:602.9px">94 %</span>
<span style="left:731.6px">-17 °C</span>
<span style="left:842.7px">76 %</span>
<span style="left:944.0px">0 km/h NNW</span>
<span style="left:1053.0px">1,023</span>
</div>
<div class="tr g" style="top:635.67px;height:46.89px">
<span style="left:10.7px">10 :00 pm</span>
<svg class="ic" style="left:99.29999999999995px;top:13.6px" width="38.5" height="20.8"><use href="#i-cl"/></svg>
<span class="cd" style="left:149.8px">Cloudy</span>
<span style="left:244.4px">-14 °C</span>
<span style="left:321.0px">-14 °C</span>
<span class="lk" style="left:433.0px">18 %</span>
<span class="lk" style="left:512.6px">0 cm</span>
<span style="left:602.9px">97 %</span>
<span style="left:731.6px">-17 °C</span>
<span style="left:842.7px">77 %</span>
<span style="left:944.0px">0 km/h NNE</span>
<span style="left:1053.0px">1,023</span>
</div>
<div class="tr" style="top:682.56px;height:46.89px">
<span style="left:10.7px">11 :00 pm</span>
<svg class="ic" style="left:99.29999999999995px;top:13.6px" width="38.5" height="20.8"><use href="#i-cl"/></svg>
<span class="cd" style="left:149.8px">Cloudy</span>
<span style="left:244.4px">-13 °C</span>
<span style="left:321.0px">-13 °C</span>
<span class="lk" style="left:433.0px">24 %</span>
<span class="lk" style="left:512.6px">0 cm</span>
<span style="left:602.9px">98 %</span>
<span style="left:731.6px">-16 °C</span>
<span style="left:842.7px">78 %</span>
<span style="left:944.0px">0 km/h NE</span>
<span style="left:1053.0px">1,022</span>
</div>
</div>
<div class="tb" style="left:629.2px;top:740.8px;width:1092.8px;height:745.15px">
<div class="th" style="height:31.0px">
<span style="left:10.6px;top:7.9px">Time</span>
<span style="left:99.1px;top:7.9px">Conditions</span>
<span style="left:279.3px;top:7.9px">Temp.</span>
<span style="left:356.3px;top:7.9px">Feels Like</span>
<span style="left:468.2px;top:7.9px">Precip</span>
<span style="left:547.8px;top:7.9px">Amount</span>
<span style="left:639.1px;top:7.9px">Cloud Cover</span>
<span style="left:768.3px;top:7.9px">Dew Point</span>
<span style="left:879.8px;top:7.9px">Humidity</span>
<span style="left:981.6px;top:7.9px">Wind</span>
<span style="left:1082.1px;top:7.9px">P</span>
</div>
<div class="tr" style="top:31.00px;height:47.25px">
<span style="left:10.6px">12 :00 am</span>
<svg class="ic" style="left:99.59999999999991px;top:4.8px" width="38.5" height="38.5"><use href="#i-sn"/></svg>
<span class="cd" style="left:150.1px">Snow Shower...</span>
<span style="left:279.3px">-13 °C</span>
<span style="left:356.3px">-13 °C</span>
<span class="lk" style="left:468.2px">37 %</span>
<span class="lk" style="left:547.8px">0.20 cm</span>
<span style="left:639.1px">98 %</span>
<span style="left:768.3px">-16 °C</span>
<span style="left:879.8px">79 %</span>
<span style="left:981.6px">0 km/h ENE</span>
<span style="left:1082.1px">1,</span>
</div>
<div class="tr g" style="top:78.25px;height:47.25px">
<span style="left:10.6px">1 :00 am</span>
<svg class="ic" style="left:99.59999999999991px;top:4.8px" width="38.5" height="38.5"><use href="#i-sn"/></svg>
<span class="cd" style="left:150.1px">Few Snow Sho...</span>
<span style="left:279.3px">-14 °C</span>
<span style="left:356.3px">-14 °C</span>
<span class="lk" style="left:468.2px">31 %</span>
<span class="lk" style="left:547.8px">0.20 cm</span>
<span style="left:639.1px">96 %</span>
<span style="left:768.3px">-16 °C</span>
<span style="left:879.8px">81 %</span>
<span style="left:981.6px">0 km/h E</span>
<span style="left:1082.1px">1,</span>
</div>
<div class="tr" style="top:125.50px;height:47.25px">
<span style="left:10.6px">2 :00 am</span>
<svg class="ic" style="left:99.59999999999991px;top:13.8px" width="38.5" height="20.8"><use href="#i-cl"/></svg>
<span class="cd" style="left:150.1px">Cloudy</span>
<span style="left:279.3px">-14 °C</span>
<span style="left:356.3px">-14 °C</span>
<span class="lk" style="left:468.2px">21 %</span>
<span class="lk" style="left:547.8px">0 cm</span>
<span style="left:639.1px">90 %</span>
<span style="left:768.3px">-16 °C</span>
<span style="left:879.8px">82 %</span>
<span style="left:981.6px">0 km/h E</span>
<span style="left:1082.1px">1,</span>
</div>
<div class="tr g" style="top:172.75px;height:47.25px">
<span style="left:10.6px">3 :00 am</span>
<svg class="ic" style="left:99.59999999999991px;top:13.8px" width="38.5" height="20.8"><use href="#i-cl"/></svg>
<span class="cd" style="left:150.1px">Cloudy</span>
<span style="left:279.3px">-14 °C</span>
<span style="left:356.3px">-14 °C</span>
<span class="lk" style="left:468.2px">14 %</span>
<span class="lk" style="left:547.8px">0 cm</span>
<span style="left:639.1px">86 %</span>
<span style="left:768.3px">-17 °C</span>
<span style="left:879.8px">82 %</span>
<span style="left:981.6px">0 km/h E</span>
<span style="left:1082.1px">1,</span>
</div>
<div class="tr" style="top:220.00px;height:47.25px">
<span style="left:10.6px">4 :00 am</span>
<svg class="ic" style="left:99.59999999999991px;top:4.8px" width="38.5" height="38.5"><use href="#i-mcn"/></svg>
<span class="cd" style="left:150.1px">Mostly Cloudy...</span>
<span style="left:279.3px">-14 °C</span>
<span style="left:356.3px">-14 °C</span>
<span class="lk" style="left:468.2px">8 %</span>
<span class="lk" style="left:547.8px">0 cm</span>
<span style="left:639.1px">79 %</span>
<span style="left:768.3px">-17 °C</span>
<span style="left:879.8px">82 %</span>
<span style="left:981.6px">0 km/h ESE</span>
<span style="left:1082.1px">1,</span>
</div>
<div class="tr g" style="top:267.25px;height:47.25px">
<span style="left:10.6px">5 :00 am</span>
<svg class="ic" style="left:99.59999999999991px;top:4.8px" width="38.5" height="38.5"><use href="#i-mcn"/></svg>
<span class="cd" style="left:150.1px">Mostly Cloudy...</span>
<span style="left:279.3px">-15 °C</span>
<span style="left:356.3px">-15 °C</span>
<span class="lk" style="left:468.2px">8 %</span>
<span class="lk" style="left:547.8px">0 cm</span>
<span style="left:639.1px">68 %</span>
<span style="left:768.3px">-17 °C</span>
<span style="left:879.8px">82 %</span>
<span style="left:981.6px">0 km/h E</span>
<span style="left:1082.1px">1,</span>
</div>
<div class="tr" style="top:314.50px;height:47.25px">
<span style="left:10.6px">6 :00 am</span>
<svg class="ic" style="left:99.59999999999991px;top:4.8px" width="38.5" height="38.5"><use href="#i-mcn"/></svg>
<span class="cd" style="left:150.1px">Mostly Cloudy...</span>
<span style="left:279.3px">-15 °C</span>
<span style="left:356.3px">-15 °C</span>
<span class="lk" style="left:468.2px">8 %</span>
<span class="lk" style="left:547.8px">0 cm</span>
<span style="left:639.1px">63 %</span>
<span style="left:768.3px">-17 °C</span>
<span style="left:879.8px">82 %</span>
<span style="left:981.6px">1 km/h E</span>
<span style="left:1082.1px">1,</span>
</div>
<div class="tr g" style="top:361.75px;height:47.25px">
<span style="left:10.6px">7 :00 am</span>
<svg class="ic" style="left:99.59999999999991px;top:4.8px" width="38.5" height="38.5"><use href="#i-mcn"/></svg>
<span class="cd" style="left:150.1px">Mostly Cloudy...</span>
<span style="left:279.3px">-15 °C</span>
<span style="left:356.3px">-15 °C</span>
<span class="lk" style="left:468.2px">8 %</span>
<span class="lk" style="left:547.8px">0 cm</span>
<span style="left:639.1px">79 %</span>
<span style="left:768.3px">-17 °C</span>
<span style="left:879.8px">82 %</span>
<span style="left:981.6px">2 km/h E</span>
<span style="left:1082.1px">1,</span>
</div>
<div class="tr" style="top:409.00px;height:47.25px">
<span style="left:10.6px">8 :00 am</span>
<svg class="ic" style="left:99.59999999999991px;top:4.8px" width="38.5" height="38.5"><use href="#i-mc"/></svg>
<span class="cd" style="left:150.1px">Mostly Cloudy...</span>
<span style="left:279.3px">-15 °C</span>
<span style="left:356.3px">-15 °C</span>
<span class="lk" style="left:468.2px">7 %</span>
<span class="lk" style="left:547.8px">0 cm</span>
<span style="left:639.1px">73 %</span>
<span style="left:768.3px">-17 °C</span>
<span style="left:879.8px">81 %</span>
<span style="left:981.6px">2 km/h ESE</span>
<span style="left:1082.1px">1,</span>
</div>
<div class="tr g" style="top:456.25px;height:47.25px">
<span style="left:10.6px">9 :00 am</span>
<svg class="ic" style="left:99.59999999999991px;top:13.8px" width="38.5" height="20.8"><use href="#i-cl"/></svg>
<span class="cd" style="left:150.1px">Cloudy</span>
<span style="left:279.3px">-12 °C</span>
<span style="left:356.3px">-12 °C</span>
<span class="lk" style="left:468.2px">15 %</span>
<span class="lk" style="left:547.8px">0 cm</span>
<span style="left:639.1px">84 %</span>
<span style="left:768.3px">-16 °C</span>
<span style="left:879.8px">77 %</span>
<span style="left:981.6px">2 km/h ESE</span>
<span style="left:1082.1px">1,</span>
</div>
<div class="tr" style="top:503.50px;height:47.25px">
<span style="left:10.6px">10 :00 am</span>
<svg class="ic" style="left:99.59999999999991px;top:13.8px" width="38.5" height="20.8"><use href="#i-cl"/></svg>
<span class="cd" style="left:150.1px">Cloudy</span>
<span style="left:279.3px">-10 °C</span>
<span style="left:356.3px">-10 °C</span>
<span class="lk" style="left:468.2px">15 %</span>
<span class="lk" style="left:547.8px">0 cm</span>
<span style="left:639.1px">88 %</span>
<span style="left:768.3px">-14 °C</span>
<span style="left:879.8px">72 %</span>
<span style="left:981.6px">3 km/h SE</span>
<span style="left:1082.1px">1,</span>
</div>
<div class="tr g" style="top:550.75px;height:47.25px">
<span style="left:10.6px">11 :00 am</span>
<svg class="ic" style="left:99.59999999999991px;top:13.8px" width="38.5" height="20.8"><use href="#i-cl"/></svg>
<span class="cd" style="left:150.1px">Cloudy</span>
<span style="left:279.3px">-8 °C</span>
<span style="left:356.3px">-11 °C</span>
<span class="lk" style="left:468.2px">15 %</span>
<span class="lk" style="left:547.8px">0 cm</span>
<span style="left:639.1px">94 %</span>
<span style="left:768.3px">-13 °C</span>
<span style="left:879.8px">67 %</span>
<span style="left:981.6px">5 km/h SE</span>
<span style="left:1082.1px">1,</span>
</div>
<div class="tr" style="top:598.00px;height:47.25px">
<span style="left:10.6px">12 :00 pm</span>
<svg class="ic" style="left:99.59999999999991px;top:13.8px" width="38.5" height="20.8"><use href="#i-cl"/></svg>
<span class="cd" style="left:150.1px">Cloudy</span>
<span style="left:279.3px">-7 °C</span>
<span style="left:356.3px">-10 °C</span>
<span class="lk" style="left:468.2px">15 %</span>
<span class="lk" style="left:547.8px">0 cm</span>
<span style="left:639.1px">94 %</span>
<span style="left:768.3px">-13 °C</span>
<span style="left:879.8px">59 %</span>
<span style="left:981.6px">7 km/h SE</span>
<span style="left:1082.1px">1,</span>
</div>
<div class="tr g" style="top:645.25px;height:47.25px">
<span style="left:10.6px">1 :00 pm</span>
<svg class="ic" style="left:99.59999999999991px;top:13.8px" width="38.5" height="20.8"><use href="#i-cl"/></svg>
<span class="cd" style="left:150.1px">Cloudy</span>
<span style="left:279.3px">-6 °C</span>
<span style="left:356.3px">-10 °C</span>
<span class="lk" style="left:468.2px">24 %</span>
<span class="lk" style="left:547.8px">0 cm</span>
<span style="left:639.1px">98 %</span>
<span style="left:768.3px">-13 °C</span>
<span style="left:879.8px">55 %</span>
<span style="left:981.6px">8 km/h SE</span>
<span style="left:1082.1px">1,</span>
</div>
<div class="tr" style="top:692.50px;height:47.25px">
<span style="left:10.6px">2 :00 pm</span>
<svg class="ic" style="left:99.59999999999991px;top:4.8px" width="38.5" height="38.5"><use href="#i-sn"/></svg>
<span class="cd" style="left:150.1px">Snow Shower...</span>
<span style="left:279.3px">-6 °C</span>
<span style="left:356.3px">-9 °C</span>
<span class="lk" style="left:468.2px">41 %</span>
<span class="lk" style="left:547.8px">0.40 cm</span>
<span style="left:639.1px">99 %</span>
<span style="left:768.3px">-13 °C</span>
<span style="left:879.8px">54 %</span>
<span style="left:981.6px">8 km/h SE</span>
<span style="left:1082.1px">1,</span>
</div>
<div class="tr g" style="top:739.75px;height:5.4px;overflow:hidden"><svg class="ic" style="left:99.59999999999991px;top:3.2px" width="38.5" height="21.6"><use href="#i-cl"/></svg></div>
</div>
<!-- left -->
<div class="sf" style="left:52.3px;top:288.9px;font-size:146px;letter-spacing:2px">if...</div>
<div class="sf" style="left:125px;top:512.5px;font-size:50.65px;">Evolving Weather</div>
<div class="sf" style="left:137.6px;top:571.6px;font-size:50.5px;">Forecast Models</div>
<div class="sf" style="left:125px;top:689.4px;font-size:50.6px;">February 9, 2026</div>
<div class="sf" style="left:1210.8px;top:1614.4px;font-size:30.09px;">Versant Sud/South Side Resort Base Weather Data</div>
<div class="sf" style="left:1210.8px;top:1649.8px;font-size:30.09px;">Excerpts Courtesy of The Weather Network.</div>
<div class="sf" style="left:2055.2px;top:1632.0px;font-size:30.16px;">Hourly/Long Range Weather Forecast Data Excerpts Courtesy of Weather Underground.</div>
<div class="topbar"></div>
</div></body></html>
